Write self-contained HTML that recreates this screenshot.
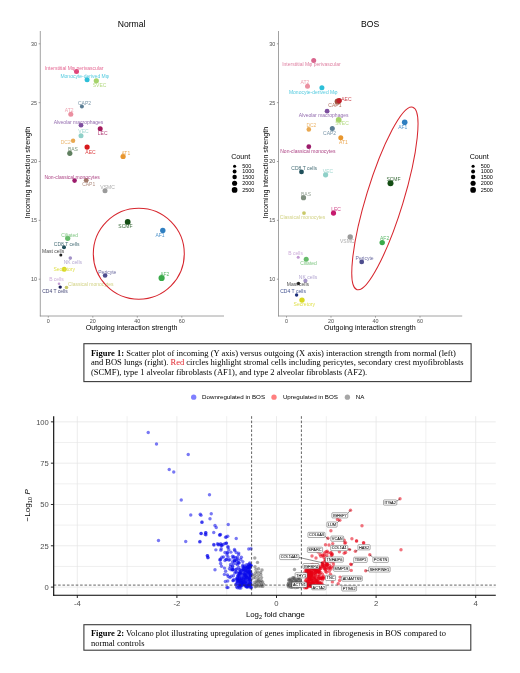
<!DOCTYPE html>
<html><head><meta charset="utf-8"><style>
html,body{margin:0;padding:0;background:#fff;}
svg{display:block;font-family:"Liberation Sans", sans-serif;will-change:transform;}
</style></head><body>
<svg width="520" height="673" viewBox="0 0 520 673">
<rect width="520" height="673" fill="#fff"/>
<line x1="40.3" y1="31" x2="40.3" y2="316.4" stroke="#8a8a8a" stroke-width="0.8"/>
<line x1="39.9" y1="316" x2="224" y2="316" stroke="#8a8a8a" stroke-width="0.8"/>
<line x1="38.699999999999996" y1="279.20" x2="40.3" y2="279.20" stroke="#8a8a8a" stroke-width="0.8"/>
<text x="37.10" y="281.14" font-size="5.4" fill="#4d4d4d" text-anchor="end" font-weight="normal" >10</text>
<line x1="38.699999999999996" y1="220.35" x2="40.3" y2="220.35" stroke="#8a8a8a" stroke-width="0.8"/>
<text x="37.10" y="222.29" font-size="5.4" fill="#4d4d4d" text-anchor="end" font-weight="normal" >15</text>
<line x1="38.699999999999996" y1="161.50" x2="40.3" y2="161.50" stroke="#8a8a8a" stroke-width="0.8"/>
<text x="37.10" y="163.44" font-size="5.4" fill="#4d4d4d" text-anchor="end" font-weight="normal" >20</text>
<line x1="38.699999999999996" y1="102.65" x2="40.3" y2="102.65" stroke="#8a8a8a" stroke-width="0.8"/>
<text x="37.10" y="104.59" font-size="5.4" fill="#4d4d4d" text-anchor="end" font-weight="normal" >25</text>
<line x1="38.699999999999996" y1="43.80" x2="40.3" y2="43.80" stroke="#8a8a8a" stroke-width="0.8"/>
<text x="37.10" y="45.74" font-size="5.4" fill="#4d4d4d" text-anchor="end" font-weight="normal" >30</text>
<line x1="48.30" y1="316" x2="48.30" y2="317.6" stroke="#8a8a8a" stroke-width="0.8"/>
<text x="48.30" y="323.24" font-size="5.4" fill="#4d4d4d" text-anchor="middle" font-weight="normal" >0</text>
<line x1="92.80" y1="316" x2="92.80" y2="317.6" stroke="#8a8a8a" stroke-width="0.8"/>
<text x="92.80" y="323.24" font-size="5.4" fill="#4d4d4d" text-anchor="middle" font-weight="normal" >20</text>
<line x1="137.30" y1="316" x2="137.30" y2="317.6" stroke="#8a8a8a" stroke-width="0.8"/>
<text x="137.30" y="323.24" font-size="5.4" fill="#4d4d4d" text-anchor="middle" font-weight="normal" >40</text>
<line x1="181.80" y1="316" x2="181.80" y2="317.6" stroke="#8a8a8a" stroke-width="0.8"/>
<text x="181.80" y="323.24" font-size="5.4" fill="#4d4d4d" text-anchor="middle" font-weight="normal" >60</text>
<text x="131.60" y="330.27" font-size="7.15" fill="#000" text-anchor="middle" font-weight="normal" >Outgoing interaction strength</text>
<text x="0" y="0" font-size="7.15" fill="#000" text-anchor="middle" transform="translate(30.150000000000002,172.7) rotate(-90)">Incoming interaction strength</text>
<line x1="278.5" y1="31" x2="278.5" y2="316.4" stroke="#8a8a8a" stroke-width="0.8"/>
<line x1="278.1" y1="316" x2="462.2" y2="316" stroke="#8a8a8a" stroke-width="0.8"/>
<line x1="276.9" y1="279.20" x2="278.5" y2="279.20" stroke="#8a8a8a" stroke-width="0.8"/>
<text x="275.30" y="281.14" font-size="5.4" fill="#4d4d4d" text-anchor="end" font-weight="normal" >10</text>
<line x1="276.9" y1="220.35" x2="278.5" y2="220.35" stroke="#8a8a8a" stroke-width="0.8"/>
<text x="275.30" y="222.29" font-size="5.4" fill="#4d4d4d" text-anchor="end" font-weight="normal" >15</text>
<line x1="276.9" y1="161.50" x2="278.5" y2="161.50" stroke="#8a8a8a" stroke-width="0.8"/>
<text x="275.30" y="163.44" font-size="5.4" fill="#4d4d4d" text-anchor="end" font-weight="normal" >20</text>
<line x1="276.9" y1="102.65" x2="278.5" y2="102.65" stroke="#8a8a8a" stroke-width="0.8"/>
<text x="275.30" y="104.59" font-size="5.4" fill="#4d4d4d" text-anchor="end" font-weight="normal" >25</text>
<line x1="276.9" y1="43.80" x2="278.5" y2="43.80" stroke="#8a8a8a" stroke-width="0.8"/>
<text x="275.30" y="45.74" font-size="5.4" fill="#4d4d4d" text-anchor="end" font-weight="normal" >30</text>
<line x1="286.50" y1="316" x2="286.50" y2="317.6" stroke="#8a8a8a" stroke-width="0.8"/>
<text x="286.50" y="323.24" font-size="5.4" fill="#4d4d4d" text-anchor="middle" font-weight="normal" >0</text>
<line x1="331.00" y1="316" x2="331.00" y2="317.6" stroke="#8a8a8a" stroke-width="0.8"/>
<text x="331.00" y="323.24" font-size="5.4" fill="#4d4d4d" text-anchor="middle" font-weight="normal" >20</text>
<line x1="375.50" y1="316" x2="375.50" y2="317.6" stroke="#8a8a8a" stroke-width="0.8"/>
<text x="375.50" y="323.24" font-size="5.4" fill="#4d4d4d" text-anchor="middle" font-weight="normal" >40</text>
<line x1="420.00" y1="316" x2="420.00" y2="317.6" stroke="#8a8a8a" stroke-width="0.8"/>
<text x="420.00" y="323.24" font-size="5.4" fill="#4d4d4d" text-anchor="middle" font-weight="normal" >60</text>
<text x="369.80" y="330.27" font-size="7.15" fill="#000" text-anchor="middle" font-weight="normal" >Outgoing interaction strength</text>
<text x="0" y="0" font-size="7.15" fill="#000" text-anchor="middle" transform="translate(268.35,172.7) rotate(-90)">Incoming interaction strength</text>
<text x="131.60" y="26.50" font-size="8.6" fill="#000" text-anchor="middle" font-weight="normal" >Normal</text>
<text x="370.10" y="26.50" font-size="8.6" fill="#000" text-anchor="middle" font-weight="normal" >BOS</text>
<circle cx="76.5" cy="71.5" r="2.50" fill="#E0457B"/>
<circle cx="87.1" cy="79.8" r="2.50" fill="#2DBFD8"/>
<circle cx="96.3" cy="80.8" r="2.60" fill="#A5D36A"/>
<circle cx="81.9" cy="106.5" r="2.00" fill="#5B7E95"/>
<circle cx="70.8" cy="114.2" r="2.50" fill="#EB8FA0"/>
<circle cx="81" cy="125.2" r="2.40" fill="#7D4E9E"/>
<circle cx="100.2" cy="128.8" r="2.50" fill="#A3185C"/>
<circle cx="81" cy="135.8" r="2.50" fill="#8FD0C8"/>
<circle cx="73.1" cy="140.8" r="2.20" fill="#E9A850"/>
<circle cx="69.8" cy="153.3" r="2.60" fill="#5F7F5F"/>
<circle cx="87.1" cy="147.1" r="2.60" fill="#D7191C"/>
<circle cx="123.1" cy="156.5" r="2.60" fill="#E8962E"/>
<circle cx="74.6" cy="180.6" r="2.30" fill="#9B1B6B"/>
<circle cx="86.2" cy="180.3" r="2.40" fill="#A07868"/>
<circle cx="105" cy="190.8" r="2.50" fill="#9A9A9A"/>
<circle cx="127.7" cy="221.9" r="2.90" fill="#134D13"/>
<circle cx="162.8" cy="230.5" r="2.70" fill="#2F7FC1"/>
<circle cx="105.1" cy="275.5" r="2.30" fill="#4E4E8E"/>
<circle cx="161.6" cy="278" r="3.10" fill="#3AAA4A"/>
<circle cx="67.7" cy="238.3" r="2.60" fill="#66BB6A"/>
<circle cx="64" cy="247.3" r="2.00" fill="#1F4F5A"/>
<circle cx="60.8" cy="255" r="1.50" fill="#222222"/>
<circle cx="70.3" cy="258.1" r="1.80" fill="#A393C8"/>
<circle cx="64.2" cy="269.2" r="2.50" fill="#D8D820"/>
<circle cx="59" cy="283.7" r="1.30" fill="#C39BD3"/>
<circle cx="60.2" cy="287.1" r="1.70" fill="#1B1F5A"/>
<circle cx="66.5" cy="287.5" r="1.80" fill="#C9C96A"/>
<text x="74.20" y="69.80" font-size="5.0" fill="#e56692" text-anchor="middle" font-weight="normal" >Interstitial Mφ perivascular</text>
<text x="84.70" y="77.80" font-size="5.0" fill="#52cadf" text-anchor="middle" font-weight="normal" >Monocyte-derived Mφ</text>
<text x="99.60" y="86.80" font-size="5.0" fill="#b5da84" text-anchor="middle" font-weight="normal" >SVEC</text>
<text x="84.50" y="104.50" font-size="5.0" fill="#7895a8" text-anchor="middle" font-weight="normal" >CAP2</text>
<text x="69.20" y="111.80" font-size="5.0" fill="#eea3b1" text-anchor="middle" font-weight="normal" >AT2</text>
<text x="78.50" y="123.70" font-size="5.0" fill="#946daf" text-anchor="middle" font-weight="normal" >Alveolar macrophages</text>
<text x="102.70" y="134.80" font-size="5.0" fill="#b34179" text-anchor="middle" font-weight="normal" >LEC</text>
<text x="83.50" y="133.30" font-size="5.0" fill="#a3d8d1" text-anchor="middle" font-weight="normal" >VEC</text>
<text x="65.70" y="143.80" font-size="5.0" fill="#ecb76f" text-anchor="middle" font-weight="normal" >DC2</text>
<text x="72.90" y="150.60" font-size="5.0" fill="#7b967b" text-anchor="middle" font-weight="normal" >BAS</text>
<text x="90.50" y="153.70" font-size="5.0" fill="#de4244" text-anchor="middle" font-weight="normal" >AEC</text>
<text x="125.80" y="155.10" font-size="5.0" fill="#eca853" text-anchor="middle" font-weight="normal" >AT1</text>
<text x="72.10" y="178.80" font-size="5.0" fill="#ad4485" text-anchor="middle" font-weight="normal" >Non-classical monocytes</text>
<text x="88.70" y="186.20" font-size="5.0" fill="#b19083" text-anchor="middle" font-weight="normal" >CAP1</text>
<text x="107.60" y="189.10" font-size="5.0" fill="#acacac" text-anchor="middle" font-weight="normal" >VSMC</text>
<text x="125.40" y="227.60" font-size="5.0" fill="#3d6d3d" text-anchor="middle" font-weight="normal" >SCMF</text>
<text x="160.00" y="236.90" font-size="5.0" fill="#5496cc" text-anchor="middle" font-weight="normal" >AF1</text>
<text x="107.30" y="273.80" font-size="5.0" fill="#6d6da2" text-anchor="middle" font-weight="normal" >Pericyte</text>
<text x="164.80" y="275.70" font-size="5.0" fill="#5db96a" text-anchor="middle" font-weight="normal" >AF2</text>
<text x="69.70" y="236.60" font-size="5.0" fill="#81c784" text-anchor="middle" font-weight="normal" >Ciliated</text>
<text x="66.70" y="245.50" font-size="5.0" fill="#476e77" text-anchor="middle" font-weight="normal" >CD8 T cells</text>
<text x="53.10" y="253.10" font-size="5.0" fill="#494949" text-anchor="middle" font-weight="normal" >Mast cells</text>
<text x="72.90" y="264.00" font-size="5.0" fill="#b3a6d1" text-anchor="middle" font-weight="normal" >NK cells</text>
<text x="64.20" y="271.00" font-size="5.0" fill="#dfdf48" text-anchor="middle" font-weight="normal" >Secretory</text>
<text x="56.50" y="281.40" font-size="5.0" fill="#cdadda" text-anchor="middle" font-weight="normal" >B cells</text>
<text x="55.00" y="293.00" font-size="5.0" fill="#444777" text-anchor="middle" font-weight="normal" >CD4 T cells</text>
<text x="90.70" y="286.00" font-size="5.0" fill="#d2d284" text-anchor="middle" font-weight="normal" >Classical monocytes</text>
<circle cx="313.7" cy="60.6" r="2.50" fill="#D9668E"/>
<circle cx="307.5" cy="86.2" r="2.50" fill="#EB8FA0"/>
<circle cx="321.9" cy="87.7" r="2.50" fill="#2DBFD8"/>
<circle cx="337.7" cy="101.5" r="3.10" fill="#A0523D"/>
<circle cx="339.2" cy="100.6" r="2.70" fill="#C0202A"/>
<circle cx="327.1" cy="111.2" r="2.40" fill="#7D4E9E"/>
<circle cx="338.7" cy="119.8" r="2.90" fill="#A5D36A"/>
<circle cx="308.8" cy="129.4" r="2.30" fill="#E9A850"/>
<circle cx="332.3" cy="128.5" r="2.50" fill="#5B7E95"/>
<circle cx="340.8" cy="137.7" r="2.50" fill="#E8962E"/>
<circle cx="308.8" cy="146.7" r="2.40" fill="#9B1B6B"/>
<circle cx="301.5" cy="171.9" r="2.40" fill="#1F4F5A"/>
<circle cx="325.6" cy="174.8" r="2.60" fill="#8FD0C8"/>
<circle cx="404.7" cy="122.3" r="2.80" fill="#2F7FC1"/>
<circle cx="390.5" cy="183.2" r="3.00" fill="#134D13"/>
<circle cx="303.5" cy="197.7" r="2.60" fill="#7F8F7F"/>
<circle cx="333.5" cy="213.1" r="2.60" fill="#C61A6E"/>
<circle cx="304" cy="213.1" r="1.90" fill="#C9C96A"/>
<circle cx="350.2" cy="237" r="2.70" fill="#9A9A9A"/>
<circle cx="382.2" cy="242.6" r="2.70" fill="#3AAA4A"/>
<circle cx="361.7" cy="261.9" r="2.40" fill="#4E4E8E"/>
<circle cx="298.2" cy="257.2" r="1.50" fill="#C39BD3"/>
<circle cx="306.2" cy="259.2" r="2.50" fill="#66BB6A"/>
<circle cx="305.4" cy="280.8" r="2.10" fill="#A393C8"/>
<circle cx="298.5" cy="283.5" r="1.70" fill="#222222"/>
<circle cx="296.6" cy="295" r="1.70" fill="#1B2F7A"/>
<circle cx="302" cy="300.1" r="2.70" fill="#D8D820"/>
<text x="311.40" y="66.20" font-size="5.0" fill="#df81a2" text-anchor="middle" font-weight="normal" >Interstitial Mφ perivascular</text>
<text x="305.00" y="84.10" font-size="5.0" fill="#eea3b1" text-anchor="middle" font-weight="normal" >AT2</text>
<text x="313.20" y="93.70" font-size="5.0" fill="#52cadf" text-anchor="middle" font-weight="normal" >Monocyte-derived Mφ</text>
<text x="334.90" y="107.20" font-size="5.0" fill="#b1715f" text-anchor="middle" font-weight="normal" >CAP1</text>
<text x="346.40" y="100.50" font-size="5.0" fill="#cb4850" text-anchor="middle" font-weight="normal" >AEC</text>
<text x="323.60" y="117.40" font-size="5.0" fill="#946daf" text-anchor="middle" font-weight="normal" >Alveolar macrophages</text>
<text x="342.00" y="124.90" font-size="5.0" fill="#b5da84" text-anchor="middle" font-weight="normal" >SVEC</text>
<text x="311.40" y="127.00" font-size="5.0" fill="#ecb76f" text-anchor="middle" font-weight="normal" >DC2</text>
<text x="329.60" y="135.10" font-size="5.0" fill="#7895a8" text-anchor="middle" font-weight="normal" >CAP2</text>
<text x="343.50" y="143.70" font-size="5.0" fill="#eca853" text-anchor="middle" font-weight="normal" >AT1</text>
<text x="307.90" y="152.60" font-size="5.0" fill="#ad4485" text-anchor="middle" font-weight="normal" >Non-classical monocytes</text>
<text x="304.20" y="169.90" font-size="5.0" fill="#476e77" text-anchor="middle" font-weight="normal" >CD8 T cells</text>
<text x="328.00" y="172.80" font-size="5.0" fill="#a3d8d1" text-anchor="middle" font-weight="normal" >VEC</text>
<text x="402.80" y="128.50" font-size="5.0" fill="#5496cc" text-anchor="middle" font-weight="normal" >AF1</text>
<text x="393.50" y="180.80" font-size="5.0" fill="#3d6d3d" text-anchor="middle" font-weight="normal" >SCMF</text>
<text x="306.00" y="195.60" font-size="5.0" fill="#96a396" text-anchor="middle" font-weight="normal" >BAS</text>
<text x="336.10" y="211.00" font-size="5.0" fill="#d04388" text-anchor="middle" font-weight="normal" >LEC</text>
<text x="302.60" y="219.10" font-size="5.0" fill="#d2d284" text-anchor="middle" font-weight="normal" >Classical monocytes</text>
<text x="347.20" y="242.90" font-size="5.0" fill="#acacac" text-anchor="middle" font-weight="normal" >VSMC</text>
<text x="384.60" y="240.20" font-size="5.0" fill="#5db96a" text-anchor="middle" font-weight="normal" >AF2</text>
<text x="364.60" y="259.80" font-size="5.0" fill="#6d6da2" text-anchor="middle" font-weight="normal" >Pericyte</text>
<text x="295.60" y="254.90" font-size="5.0" fill="#cdadda" text-anchor="middle" font-weight="normal" >B cells</text>
<text x="308.50" y="265.20" font-size="5.0" fill="#81c784" text-anchor="middle" font-weight="normal" >Ciliated</text>
<text x="308.00" y="279.10" font-size="5.0" fill="#b3a6d1" text-anchor="middle" font-weight="normal" >NK cells</text>
<text x="297.90" y="286.30" font-size="5.0" fill="#494949" text-anchor="middle" font-weight="normal" >Mast cells</text>
<text x="293.10" y="293.30" font-size="5.0" fill="#445491" text-anchor="middle" font-weight="normal" >CD4 T cells</text>
<text x="304.30" y="306.00" font-size="5.0" fill="#dfdf48" text-anchor="middle" font-weight="normal" >Secretory</text>
<circle cx="138.8" cy="253.7" r="45.5" fill="none" stroke="#D7262E" stroke-width="1.05"/>
<ellipse cx="384.9" cy="198.4" rx="18.6" ry="95.4" transform="rotate(17.0 384.9 198.4)" fill="none" stroke="#D7262E" stroke-width="1.05"/>
<text x="240.70" y="159.16" font-size="7.1" fill="#000" text-anchor="middle" font-weight="normal" >Count</text>
<circle cx="234.6" cy="166.2" r="1.55" fill="#000"/>
<text x="242.20" y="168.18" font-size="5.5" fill="#000" text-anchor="start" font-weight="normal" >500</text>
<circle cx="234.6" cy="171.5" r="1.95" fill="#000"/>
<text x="242.20" y="173.48" font-size="5.5" fill="#000" text-anchor="start" font-weight="normal" >1000</text>
<circle cx="234.6" cy="176.9" r="2.25" fill="#000"/>
<text x="242.20" y="178.88" font-size="5.5" fill="#000" text-anchor="start" font-weight="normal" >1500</text>
<circle cx="234.6" cy="183.3" r="2.55" fill="#000"/>
<text x="242.20" y="185.28" font-size="5.5" fill="#000" text-anchor="start" font-weight="normal" >2000</text>
<circle cx="234.6" cy="189.9" r="2.85" fill="#000"/>
<text x="242.20" y="191.88" font-size="5.5" fill="#000" text-anchor="start" font-weight="normal" >2500</text>
<text x="479.20" y="159.16" font-size="7.1" fill="#000" text-anchor="middle" font-weight="normal" >Count</text>
<circle cx="473.1" cy="166.2" r="1.55" fill="#000"/>
<text x="480.70" y="168.18" font-size="5.5" fill="#000" text-anchor="start" font-weight="normal" >500</text>
<circle cx="473.1" cy="171.5" r="1.95" fill="#000"/>
<text x="480.70" y="173.48" font-size="5.5" fill="#000" text-anchor="start" font-weight="normal" >1000</text>
<circle cx="473.1" cy="176.9" r="2.25" fill="#000"/>
<text x="480.70" y="178.88" font-size="5.5" fill="#000" text-anchor="start" font-weight="normal" >1500</text>
<circle cx="473.1" cy="183.3" r="2.55" fill="#000"/>
<text x="480.70" y="185.28" font-size="5.5" fill="#000" text-anchor="start" font-weight="normal" >2000</text>
<circle cx="473.1" cy="189.9" r="2.85" fill="#000"/>
<text x="480.70" y="191.88" font-size="5.5" fill="#000" text-anchor="start" font-weight="normal" >2500</text>
<rect x="83.9" y="343.7" width="387.20000000000005" height="37.900000000000034" fill="#fff" stroke="#3a3a3a" stroke-width="1.1"/>
<text font-family='"Liberation Serif", serif' font-size="8.5" fill="#000"><tspan x="90.9" y="355.8"><tspan font-weight="bold">Figure 1:</tspan> Scatter plot of incoming (Y axis) versus outgoing (X axis) interaction strength from normal (left)</tspan><tspan x="90.9" y="365.3">and BOS lungs (right). <tspan fill="#E0262E">Red</tspan> circles highlight stromal cells including pericytes, secondary crest myofibroblasts</tspan><tspan x="90.9" y="374.8">(SCMF), type 1 alveolar fibroblasts (AF1), and type 2 alveolar fibroblasts (AF2).</tspan></text>
<rect x="83.9" y="624.7" width="386.9" height="25.5" fill="#fff" stroke="#3a3a3a" stroke-width="1.1"/>
<text font-family='"Liberation Serif", serif' font-size="8.5" fill="#000"><tspan x="90.9" y="636.1"><tspan font-weight="bold">Figure 2:</tspan> Volcano plot illustrating upregulation of genes implicated in fibrogenesis in BOS compared to</tspan><tspan x="90.9" y="645.6">normal controls</tspan></text>
<line x1="77.30" y1="416.2" x2="77.30" y2="595.2" stroke="#e6e6e6" stroke-width="0.75"/>
<line x1="127.10" y1="416.2" x2="127.10" y2="595.2" stroke="#e6e6e6" stroke-width="0.6"/>
<line x1="176.90" y1="416.2" x2="176.90" y2="595.2" stroke="#e6e6e6" stroke-width="0.75"/>
<line x1="226.70" y1="416.2" x2="226.70" y2="595.2" stroke="#e6e6e6" stroke-width="0.6"/>
<line x1="276.50" y1="416.2" x2="276.50" y2="595.2" stroke="#e6e6e6" stroke-width="0.75"/>
<line x1="326.30" y1="416.2" x2="326.30" y2="595.2" stroke="#e6e6e6" stroke-width="0.6"/>
<line x1="376.10" y1="416.2" x2="376.10" y2="595.2" stroke="#e6e6e6" stroke-width="0.75"/>
<line x1="425.90" y1="416.2" x2="425.90" y2="595.2" stroke="#e6e6e6" stroke-width="0.6"/>
<line x1="475.70" y1="416.2" x2="475.70" y2="595.2" stroke="#e6e6e6" stroke-width="0.75"/>
<line x1="53.7" y1="587.10" x2="495.8" y2="587.10" stroke="#e6e6e6" stroke-width="0.75"/>
<line x1="53.7" y1="566.44" x2="495.8" y2="566.44" stroke="#e6e6e6" stroke-width="0.6"/>
<line x1="53.7" y1="545.79" x2="495.8" y2="545.79" stroke="#e6e6e6" stroke-width="0.75"/>
<line x1="53.7" y1="525.13" x2="495.8" y2="525.13" stroke="#e6e6e6" stroke-width="0.6"/>
<line x1="53.7" y1="504.48" x2="495.8" y2="504.48" stroke="#e6e6e6" stroke-width="0.75"/>
<line x1="53.7" y1="483.82" x2="495.8" y2="483.82" stroke="#e6e6e6" stroke-width="0.6"/>
<line x1="53.7" y1="463.16" x2="495.8" y2="463.16" stroke="#e6e6e6" stroke-width="0.75"/>
<line x1="53.7" y1="442.51" x2="495.8" y2="442.51" stroke="#e6e6e6" stroke-width="0.6"/>
<line x1="53.7" y1="421.85" x2="495.8" y2="421.85" stroke="#e6e6e6" stroke-width="0.75"/>
<circle cx="324.01" cy="557.59" r="1.7" fill="rgba(232,0,20,0.55)"/>
<circle cx="311.54" cy="575.11" r="1.7" fill="rgba(232,0,20,0.55)"/>
<circle cx="259.23" cy="581.59" r="1.7" fill="rgba(77,77,77,0.5)"/>
<circle cx="249.37" cy="582.92" r="1.7" fill="rgba(10,10,235,0.55)"/>
<circle cx="322.57" cy="555.07" r="1.7" fill="rgba(232,0,20,0.55)"/>
<circle cx="258.23" cy="575.22" r="1.7" fill="rgba(77,77,77,0.5)"/>
<circle cx="241.36" cy="557.19" r="1.7" fill="rgba(10,10,235,0.55)"/>
<circle cx="314.02" cy="585.33" r="1.7" fill="rgba(232,0,20,0.55)"/>
<circle cx="255.01" cy="566.81" r="1.7" fill="rgba(77,77,77,0.5)"/>
<circle cx="249.78" cy="562.88" r="1.7" fill="rgba(10,10,235,0.55)"/>
<circle cx="227.75" cy="581.00" r="1.7" fill="rgba(10,10,235,0.55)"/>
<circle cx="239.24" cy="585.50" r="1.7" fill="rgba(10,10,235,0.55)"/>
<circle cx="242.34" cy="582.76" r="1.7" fill="rgba(10,10,235,0.55)"/>
<circle cx="229.40" cy="568.75" r="1.7" fill="rgba(10,10,235,0.55)"/>
<circle cx="251.16" cy="587.89" r="1.7" fill="rgba(10,10,235,0.55)"/>
<circle cx="239.94" cy="572.55" r="1.7" fill="rgba(10,10,235,0.55)"/>
<circle cx="233.36" cy="575.80" r="1.7" fill="rgba(10,10,235,0.55)"/>
<circle cx="311.52" cy="572.00" r="1.7" fill="rgba(232,0,20,0.55)"/>
<circle cx="257.70" cy="572.26" r="1.7" fill="rgba(77,77,77,0.5)"/>
<circle cx="249.72" cy="570.90" r="1.7" fill="rgba(10,10,235,0.55)"/>
<circle cx="249.49" cy="566.35" r="1.7" fill="rgba(10,10,235,0.55)"/>
<circle cx="307.24" cy="584.23" r="1.7" fill="rgba(232,0,20,0.55)"/>
<circle cx="311.34" cy="583.41" r="1.7" fill="rgba(232,0,20,0.55)"/>
<circle cx="312.93" cy="585.70" r="1.7" fill="rgba(232,0,20,0.55)"/>
<circle cx="316.16" cy="580.99" r="1.7" fill="rgba(232,0,20,0.55)"/>
<circle cx="260.87" cy="574.71" r="1.7" fill="rgba(77,77,77,0.5)"/>
<circle cx="217.50" cy="543.75" r="1.7" fill="rgba(10,10,235,0.55)"/>
<circle cx="247.24" cy="586.51" r="1.7" fill="rgba(10,10,235,0.55)"/>
<circle cx="290.66" cy="587.36" r="1.7" fill="rgba(77,77,77,0.5)"/>
<circle cx="304.70" cy="587.80" r="1.7" fill="rgba(232,0,20,0.55)"/>
<circle cx="221.22" cy="548.78" r="1.7" fill="rgba(10,10,235,0.55)"/>
<circle cx="312.37" cy="582.64" r="1.7" fill="rgba(232,0,20,0.55)"/>
<circle cx="355.40" cy="551.30" r="1.7" fill="rgba(232,0,20,0.55)"/>
<circle cx="251.10" cy="584.99" r="1.7" fill="rgba(10,10,235,0.55)"/>
<circle cx="326.27" cy="565.95" r="1.7" fill="rgba(232,0,20,0.55)"/>
<circle cx="293.63" cy="582.89" r="1.7" fill="rgba(77,77,77,0.5)"/>
<circle cx="329.29" cy="571.30" r="1.7" fill="rgba(232,0,20,0.55)"/>
<circle cx="201.00" cy="533.50" r="1.7" fill="rgba(10,10,235,0.55)"/>
<circle cx="261.50" cy="584.73" r="1.7" fill="rgba(77,77,77,0.5)"/>
<circle cx="255.39" cy="577.74" r="1.7" fill="rgba(77,77,77,0.5)"/>
<circle cx="230.86" cy="552.17" r="1.7" fill="rgba(10,10,235,0.55)"/>
<circle cx="309.10" cy="575.74" r="1.7" fill="rgba(232,0,20,0.55)"/>
<circle cx="307.29" cy="573.27" r="1.7" fill="rgba(232,0,20,0.55)"/>
<circle cx="247.26" cy="583.26" r="1.7" fill="rgba(10,10,235,0.55)"/>
<circle cx="224.49" cy="568.08" r="1.7" fill="rgba(10,10,235,0.55)"/>
<circle cx="320.70" cy="568.45" r="1.7" fill="rgba(232,0,20,0.55)"/>
<circle cx="220.83" cy="550.14" r="1.7" fill="rgba(10,10,235,0.55)"/>
<circle cx="291.25" cy="585.60" r="1.7" fill="rgba(77,77,77,0.5)"/>
<circle cx="243.72" cy="577.68" r="1.7" fill="rgba(10,10,235,0.55)"/>
<circle cx="220.26" cy="560.34" r="1.7" fill="rgba(10,10,235,0.55)"/>
<circle cx="337.50" cy="519.50" r="1.7" fill="rgba(232,0,20,0.55)"/>
<circle cx="261.50" cy="577.59" r="1.7" fill="rgba(77,77,77,0.5)"/>
<circle cx="169.25" cy="469.50" r="1.7" fill="rgba(10,10,235,0.55)"/>
<circle cx="311.83" cy="576.95" r="1.7" fill="rgba(232,0,20,0.55)"/>
<circle cx="218.75" cy="544.50" r="1.7" fill="rgba(10,10,235,0.55)"/>
<circle cx="249.77" cy="579.50" r="1.7" fill="rgba(10,10,235,0.55)"/>
<circle cx="237.53" cy="587.73" r="1.7" fill="rgba(10,10,235,0.55)"/>
<circle cx="262.00" cy="570.00" r="1.7" fill="rgba(77,77,77,0.5)"/>
<circle cx="298.14" cy="578.63" r="1.7" fill="rgba(77,77,77,0.5)"/>
<circle cx="338.20" cy="583.80" r="1.7" fill="rgba(232,0,20,0.55)"/>
<circle cx="242.72" cy="585.29" r="1.7" fill="rgba(10,10,235,0.55)"/>
<circle cx="320.59" cy="578.67" r="1.7" fill="rgba(232,0,20,0.55)"/>
<circle cx="236.32" cy="578.90" r="1.7" fill="rgba(10,10,235,0.55)"/>
<circle cx="288.56" cy="582.84" r="1.7" fill="rgba(77,77,77,0.5)"/>
<circle cx="307.16" cy="585.53" r="1.7" fill="rgba(232,0,20,0.55)"/>
<circle cx="313.97" cy="587.87" r="1.7" fill="rgba(232,0,20,0.55)"/>
<circle cx="235.54" cy="557.68" r="1.7" fill="rgba(10,10,235,0.55)"/>
<circle cx="239.02" cy="573.77" r="1.7" fill="rgba(10,10,235,0.55)"/>
<circle cx="314.36" cy="582.01" r="1.7" fill="rgba(232,0,20,0.55)"/>
<circle cx="314.48" cy="579.53" r="1.7" fill="rgba(232,0,20,0.55)"/>
<circle cx="156.50" cy="444.00" r="1.7" fill="rgba(10,10,235,0.55)"/>
<circle cx="322.82" cy="564.47" r="1.7" fill="rgba(232,0,20,0.55)"/>
<circle cx="242.88" cy="576.99" r="1.7" fill="rgba(10,10,235,0.55)"/>
<circle cx="318.61" cy="571.96" r="1.7" fill="rgba(232,0,20,0.55)"/>
<circle cx="220.00" cy="535.00" r="1.7" fill="rgba(10,10,235,0.55)"/>
<circle cx="246.50" cy="564.65" r="1.7" fill="rgba(10,10,235,0.55)"/>
<circle cx="234.75" cy="550.60" r="1.7" fill="rgba(10,10,235,0.55)"/>
<circle cx="243.33" cy="581.26" r="1.7" fill="rgba(10,10,235,0.55)"/>
<circle cx="245.90" cy="568.12" r="1.7" fill="rgba(10,10,235,0.55)"/>
<circle cx="248.40" cy="585.51" r="1.7" fill="rgba(10,10,235,0.55)"/>
<circle cx="237.99" cy="579.09" r="1.7" fill="rgba(10,10,235,0.55)"/>
<circle cx="241.98" cy="582.80" r="1.7" fill="rgba(10,10,235,0.55)"/>
<circle cx="307.25" cy="566.27" r="1.7" fill="rgba(232,0,20,0.55)"/>
<circle cx="248.75" cy="549.00" r="1.7" fill="rgba(10,10,235,0.55)"/>
<circle cx="232.50" cy="569.75" r="1.7" fill="rgba(10,10,235,0.55)"/>
<circle cx="227.29" cy="552.50" r="1.7" fill="rgba(10,10,235,0.55)"/>
<circle cx="310.26" cy="586.14" r="1.7" fill="rgba(232,0,20,0.55)"/>
<circle cx="256.98" cy="580.59" r="1.7" fill="rgba(77,77,77,0.5)"/>
<circle cx="237.87" cy="575.76" r="1.7" fill="rgba(10,10,235,0.55)"/>
<circle cx="311.50" cy="586.39" r="1.7" fill="rgba(232,0,20,0.55)"/>
<circle cx="237.22" cy="578.99" r="1.7" fill="rgba(10,10,235,0.55)"/>
<circle cx="241.73" cy="577.22" r="1.7" fill="rgba(10,10,235,0.55)"/>
<circle cx="308.29" cy="571.28" r="1.7" fill="rgba(232,0,20,0.55)"/>
<circle cx="220.60" cy="563.50" r="1.7" fill="rgba(10,10,235,0.55)"/>
<circle cx="241.54" cy="570.23" r="1.7" fill="rgba(10,10,235,0.55)"/>
<circle cx="315.10" cy="577.46" r="1.7" fill="rgba(232,0,20,0.55)"/>
<circle cx="299.12" cy="584.29" r="1.7" fill="rgba(77,77,77,0.5)"/>
<circle cx="332.70" cy="543.60" r="1.7" fill="rgba(232,0,20,0.55)"/>
<circle cx="333.59" cy="567.05" r="1.7" fill="rgba(232,0,20,0.55)"/>
<circle cx="236.25" cy="563.75" r="1.7" fill="rgba(10,10,235,0.55)"/>
<circle cx="240.79" cy="586.07" r="1.7" fill="rgba(10,10,235,0.55)"/>
<circle cx="309.94" cy="577.15" r="1.7" fill="rgba(232,0,20,0.55)"/>
<circle cx="236.25" cy="552.50" r="1.7" fill="rgba(10,10,235,0.55)"/>
<circle cx="246.60" cy="576.01" r="1.7" fill="rgba(10,10,235,0.55)"/>
<circle cx="238.41" cy="562.94" r="1.7" fill="rgba(10,10,235,0.55)"/>
<circle cx="257.50" cy="562.40" r="1.7" fill="rgba(77,77,77,0.5)"/>
<circle cx="310.32" cy="572.10" r="1.7" fill="rgba(232,0,20,0.55)"/>
<circle cx="214.00" cy="545.00" r="1.7" fill="rgba(10,10,235,0.55)"/>
<circle cx="226.50" cy="543.10" r="1.7" fill="rgba(10,10,235,0.55)"/>
<circle cx="299.80" cy="583.62" r="1.7" fill="rgba(77,77,77,0.5)"/>
<circle cx="315.74" cy="580.73" r="1.7" fill="rgba(232,0,20,0.55)"/>
<circle cx="202.00" cy="522.00" r="1.7" fill="rgba(10,10,235,0.55)"/>
<circle cx="248.30" cy="564.60" r="1.7" fill="rgba(10,10,235,0.55)"/>
<circle cx="344.70" cy="543.10" r="1.7" fill="rgba(232,0,20,0.55)"/>
<circle cx="310.47" cy="573.49" r="1.7" fill="rgba(232,0,20,0.55)"/>
<circle cx="234.75" cy="573.10" r="1.7" fill="rgba(10,10,235,0.55)"/>
<circle cx="240.62" cy="585.12" r="1.7" fill="rgba(10,10,235,0.55)"/>
<circle cx="234.50" cy="549.50" r="1.7" fill="rgba(10,10,235,0.55)"/>
<circle cx="242.70" cy="583.96" r="1.7" fill="rgba(10,10,235,0.55)"/>
<circle cx="292.85" cy="577.67" r="1.7" fill="rgba(77,77,77,0.5)"/>
<circle cx="239.20" cy="572.86" r="1.7" fill="rgba(10,10,235,0.55)"/>
<circle cx="309.92" cy="581.97" r="1.7" fill="rgba(232,0,20,0.55)"/>
<circle cx="315.54" cy="585.73" r="1.7" fill="rgba(232,0,20,0.55)"/>
<circle cx="327.23" cy="565.60" r="1.7" fill="rgba(232,0,20,0.55)"/>
<circle cx="251.00" cy="548.75" r="1.7" fill="rgba(10,10,235,0.55)"/>
<circle cx="246.44" cy="571.05" r="1.7" fill="rgba(10,10,235,0.55)"/>
<circle cx="254.53" cy="584.47" r="1.7" fill="rgba(77,77,77,0.5)"/>
<circle cx="255.22" cy="586.77" r="1.7" fill="rgba(77,77,77,0.5)"/>
<circle cx="324.42" cy="565.51" r="1.7" fill="rgba(232,0,20,0.55)"/>
<circle cx="201.20" cy="533.50" r="1.7" fill="rgba(10,10,235,0.55)"/>
<circle cx="315.61" cy="568.17" r="1.7" fill="rgba(232,0,20,0.55)"/>
<circle cx="310.13" cy="585.53" r="1.7" fill="rgba(232,0,20,0.55)"/>
<circle cx="248.77" cy="580.70" r="1.7" fill="rgba(10,10,235,0.55)"/>
<circle cx="317.48" cy="584.80" r="1.7" fill="rgba(232,0,20,0.55)"/>
<circle cx="317.84" cy="576.49" r="1.7" fill="rgba(232,0,20,0.55)"/>
<circle cx="249.41" cy="578.09" r="1.7" fill="rgba(10,10,235,0.55)"/>
<circle cx="306.86" cy="575.62" r="1.7" fill="rgba(232,0,20,0.55)"/>
<circle cx="311.76" cy="579.89" r="1.7" fill="rgba(232,0,20,0.55)"/>
<circle cx="233.72" cy="556.64" r="1.7" fill="rgba(10,10,235,0.55)"/>
<circle cx="244.70" cy="566.29" r="1.7" fill="rgba(10,10,235,0.55)"/>
<circle cx="313.09" cy="582.55" r="1.7" fill="rgba(232,0,20,0.55)"/>
<circle cx="326.51" cy="572.18" r="1.7" fill="rgba(232,0,20,0.55)"/>
<circle cx="349.60" cy="549.60" r="1.7" fill="rgba(232,0,20,0.55)"/>
<circle cx="249.01" cy="571.71" r="1.7" fill="rgba(10,10,235,0.55)"/>
<circle cx="247.07" cy="572.71" r="1.7" fill="rgba(10,10,235,0.55)"/>
<circle cx="318.65" cy="585.60" r="1.7" fill="rgba(232,0,20,0.55)"/>
<circle cx="188.25" cy="454.50" r="1.7" fill="rgba(10,10,235,0.55)"/>
<circle cx="323.80" cy="578.10" r="1.7" fill="rgba(232,0,20,0.55)"/>
<circle cx="241.09" cy="582.70" r="1.7" fill="rgba(10,10,235,0.55)"/>
<circle cx="250.90" cy="572.94" r="1.7" fill="rgba(10,10,235,0.55)"/>
<circle cx="228.10" cy="556.90" r="1.7" fill="rgba(10,10,235,0.55)"/>
<circle cx="249.94" cy="568.10" r="1.7" fill="rgba(10,10,235,0.55)"/>
<circle cx="318.65" cy="571.51" r="1.7" fill="rgba(232,0,20,0.55)"/>
<circle cx="314.85" cy="565.09" r="1.7" fill="rgba(232,0,20,0.55)"/>
<circle cx="330.84" cy="561.75" r="1.7" fill="rgba(232,0,20,0.55)"/>
<circle cx="327.25" cy="551.26" r="1.7" fill="rgba(232,0,20,0.55)"/>
<circle cx="289.21" cy="580.37" r="1.7" fill="rgba(77,77,77,0.5)"/>
<circle cx="261.30" cy="580.50" r="1.7" fill="rgba(77,77,77,0.5)"/>
<circle cx="316.51" cy="570.97" r="1.7" fill="rgba(232,0,20,0.55)"/>
<circle cx="332.34" cy="553.92" r="1.7" fill="rgba(232,0,20,0.55)"/>
<circle cx="290.17" cy="578.87" r="1.7" fill="rgba(77,77,77,0.5)"/>
<circle cx="295.08" cy="584.22" r="1.7" fill="rgba(77,77,77,0.5)"/>
<circle cx="332.40" cy="581.90" r="1.7" fill="rgba(232,0,20,0.55)"/>
<circle cx="315.89" cy="572.47" r="1.7" fill="rgba(232,0,20,0.55)"/>
<circle cx="244.19" cy="573.34" r="1.7" fill="rgba(10,10,235,0.55)"/>
<circle cx="215.00" cy="525.50" r="1.7" fill="rgba(10,10,235,0.55)"/>
<circle cx="309.90" cy="579.36" r="1.7" fill="rgba(232,0,20,0.55)"/>
<circle cx="226.09" cy="559.34" r="1.7" fill="rgba(10,10,235,0.55)"/>
<circle cx="244.86" cy="578.22" r="1.7" fill="rgba(10,10,235,0.55)"/>
<circle cx="240.74" cy="559.39" r="1.7" fill="rgba(10,10,235,0.55)"/>
<circle cx="306.26" cy="569.44" r="1.7" fill="rgba(232,0,20,0.55)"/>
<circle cx="245.57" cy="582.82" r="1.7" fill="rgba(10,10,235,0.55)"/>
<circle cx="316.73" cy="568.75" r="1.7" fill="rgba(232,0,20,0.55)"/>
<circle cx="220.50" cy="534.50" r="1.7" fill="rgba(10,10,235,0.55)"/>
<circle cx="239.17" cy="584.27" r="1.7" fill="rgba(10,10,235,0.55)"/>
<circle cx="245.07" cy="570.34" r="1.7" fill="rgba(10,10,235,0.55)"/>
<circle cx="310.75" cy="565.31" r="1.7" fill="rgba(232,0,20,0.55)"/>
<circle cx="401.00" cy="549.80" r="1.7" fill="rgba(232,0,20,0.55)"/>
<circle cx="312.15" cy="580.00" r="1.7" fill="rgba(232,0,20,0.55)"/>
<circle cx="237.10" cy="558.95" r="1.7" fill="rgba(10,10,235,0.55)"/>
<circle cx="250.22" cy="571.58" r="1.7" fill="rgba(10,10,235,0.55)"/>
<circle cx="306.48" cy="587.92" r="1.7" fill="rgba(232,0,20,0.55)"/>
<circle cx="227.75" cy="536.25" r="1.7" fill="rgba(10,10,235,0.55)"/>
<circle cx="305.11" cy="585.56" r="1.7" fill="rgba(232,0,20,0.55)"/>
<circle cx="339.60" cy="580.50" r="1.7" fill="rgba(232,0,20,0.55)"/>
<circle cx="288.89" cy="583.61" r="1.7" fill="rgba(77,77,77,0.5)"/>
<circle cx="294.23" cy="578.72" r="1.7" fill="rgba(77,77,77,0.5)"/>
<circle cx="241.40" cy="578.49" r="1.7" fill="rgba(10,10,235,0.55)"/>
<circle cx="310.50" cy="575.96" r="1.7" fill="rgba(232,0,20,0.55)"/>
<circle cx="298.75" cy="585.53" r="1.7" fill="rgba(77,77,77,0.5)"/>
<circle cx="313.71" cy="568.13" r="1.7" fill="rgba(232,0,20,0.55)"/>
<circle cx="258.69" cy="580.06" r="1.7" fill="rgba(77,77,77,0.5)"/>
<circle cx="238.81" cy="575.80" r="1.7" fill="rgba(10,10,235,0.55)"/>
<circle cx="340.10" cy="577.10" r="1.7" fill="rgba(232,0,20,0.55)"/>
<circle cx="292.46" cy="584.49" r="1.7" fill="rgba(77,77,77,0.5)"/>
<circle cx="308.24" cy="581.50" r="1.7" fill="rgba(232,0,20,0.55)"/>
<circle cx="244.15" cy="575.58" r="1.7" fill="rgba(10,10,235,0.55)"/>
<circle cx="317.58" cy="567.47" r="1.7" fill="rgba(232,0,20,0.55)"/>
<circle cx="228.10" cy="547.50" r="1.7" fill="rgba(10,10,235,0.55)"/>
<circle cx="327.90" cy="552.70" r="1.7" fill="rgba(232,0,20,0.55)"/>
<circle cx="239.10" cy="578.78" r="1.7" fill="rgba(10,10,235,0.55)"/>
<circle cx="225.60" cy="537.25" r="1.7" fill="rgba(10,10,235,0.55)"/>
<circle cx="339.40" cy="551.70" r="1.7" fill="rgba(232,0,20,0.55)"/>
<circle cx="319.70" cy="567.96" r="1.7" fill="rgba(232,0,20,0.55)"/>
<circle cx="250.82" cy="565.33" r="1.7" fill="rgba(10,10,235,0.55)"/>
<circle cx="238.07" cy="575.41" r="1.7" fill="rgba(10,10,235,0.55)"/>
<circle cx="333.44" cy="564.11" r="1.7" fill="rgba(232,0,20,0.55)"/>
<circle cx="315.55" cy="585.68" r="1.7" fill="rgba(232,0,20,0.55)"/>
<circle cx="250.90" cy="587.43" r="1.7" fill="rgba(10,10,235,0.55)"/>
<circle cx="314.30" cy="573.52" r="1.7" fill="rgba(232,0,20,0.55)"/>
<circle cx="298.11" cy="586.95" r="1.7" fill="rgba(77,77,77,0.5)"/>
<circle cx="322.93" cy="577.51" r="1.7" fill="rgba(232,0,20,0.55)"/>
<circle cx="225.00" cy="552.50" r="1.7" fill="rgba(10,10,235,0.55)"/>
<circle cx="148.25" cy="432.50" r="1.7" fill="rgba(10,10,235,0.55)"/>
<circle cx="308.05" cy="573.53" r="1.7" fill="rgba(232,0,20,0.55)"/>
<circle cx="240.87" cy="585.75" r="1.7" fill="rgba(10,10,235,0.55)"/>
<circle cx="328.42" cy="568.40" r="1.7" fill="rgba(232,0,20,0.55)"/>
<circle cx="313.18" cy="565.90" r="1.7" fill="rgba(232,0,20,0.55)"/>
<circle cx="245.70" cy="576.24" r="1.7" fill="rgba(10,10,235,0.55)"/>
<circle cx="356.60" cy="540.90" r="1.7" fill="rgba(232,0,20,0.55)"/>
<circle cx="229.97" cy="577.57" r="1.7" fill="rgba(10,10,235,0.55)"/>
<circle cx="310.55" cy="583.18" r="1.7" fill="rgba(232,0,20,0.55)"/>
<circle cx="313.50" cy="582.01" r="1.7" fill="rgba(232,0,20,0.55)"/>
<circle cx="236.59" cy="587.07" r="1.7" fill="rgba(10,10,235,0.55)"/>
<circle cx="240.07" cy="573.13" r="1.7" fill="rgba(10,10,235,0.55)"/>
<circle cx="369.80" cy="554.80" r="1.7" fill="rgba(232,0,20,0.55)"/>
<circle cx="259.15" cy="584.28" r="1.7" fill="rgba(77,77,77,0.5)"/>
<circle cx="235.00" cy="560.60" r="1.7" fill="rgba(10,10,235,0.55)"/>
<circle cx="307.14" cy="585.70" r="1.7" fill="rgba(232,0,20,0.55)"/>
<circle cx="248.94" cy="578.29" r="1.7" fill="rgba(10,10,235,0.55)"/>
<circle cx="255.06" cy="575.22" r="1.7" fill="rgba(77,77,77,0.5)"/>
<circle cx="249.38" cy="572.61" r="1.7" fill="rgba(10,10,235,0.55)"/>
<circle cx="242.12" cy="580.13" r="1.7" fill="rgba(10,10,235,0.55)"/>
<circle cx="185.70" cy="541.50" r="1.7" fill="rgba(10,10,235,0.55)"/>
<circle cx="327.12" cy="561.83" r="1.7" fill="rgba(232,0,20,0.55)"/>
<circle cx="287.76" cy="585.02" r="1.7" fill="rgba(77,77,77,0.5)"/>
<circle cx="310.37" cy="575.91" r="1.7" fill="rgba(232,0,20,0.55)"/>
<circle cx="246.51" cy="577.61" r="1.7" fill="rgba(10,10,235,0.55)"/>
<circle cx="239.32" cy="587.96" r="1.7" fill="rgba(10,10,235,0.55)"/>
<circle cx="344.20" cy="540.20" r="1.7" fill="rgba(232,0,20,0.55)"/>
<circle cx="250.43" cy="565.15" r="1.7" fill="rgba(10,10,235,0.55)"/>
<circle cx="308.06" cy="571.30" r="1.7" fill="rgba(232,0,20,0.55)"/>
<circle cx="336.00" cy="560.00" r="1.7" fill="rgba(232,0,20,0.55)"/>
<circle cx="244.16" cy="582.77" r="1.7" fill="rgba(10,10,235,0.55)"/>
<circle cx="306.12" cy="569.87" r="1.7" fill="rgba(232,0,20,0.55)"/>
<circle cx="324.50" cy="555.10" r="1.7" fill="rgba(232,0,20,0.55)"/>
<circle cx="306.34" cy="580.24" r="1.7" fill="rgba(232,0,20,0.55)"/>
<circle cx="313.73" cy="572.08" r="1.7" fill="rgba(232,0,20,0.55)"/>
<circle cx="351.20" cy="570.40" r="1.7" fill="rgba(232,0,20,0.55)"/>
<circle cx="246.81" cy="586.75" r="1.7" fill="rgba(10,10,235,0.55)"/>
<circle cx="308.23" cy="585.12" r="1.7" fill="rgba(232,0,20,0.55)"/>
<circle cx="311.94" cy="568.61" r="1.7" fill="rgba(232,0,20,0.55)"/>
<circle cx="239.91" cy="583.59" r="1.7" fill="rgba(10,10,235,0.55)"/>
<circle cx="237.37" cy="577.57" r="1.7" fill="rgba(10,10,235,0.55)"/>
<circle cx="326.07" cy="569.46" r="1.7" fill="rgba(232,0,20,0.55)"/>
<circle cx="243.22" cy="567.47" r="1.7" fill="rgba(10,10,235,0.55)"/>
<circle cx="294.25" cy="585.40" r="1.7" fill="rgba(77,77,77,0.5)"/>
<circle cx="345.60" cy="542.70" r="1.7" fill="rgba(232,0,20,0.55)"/>
<circle cx="226.25" cy="537.00" r="1.7" fill="rgba(10,10,235,0.55)"/>
<circle cx="308.55" cy="572.51" r="1.7" fill="rgba(232,0,20,0.55)"/>
<circle cx="256.64" cy="583.74" r="1.7" fill="rgba(77,77,77,0.5)"/>
<circle cx="291.91" cy="581.01" r="1.7" fill="rgba(77,77,77,0.5)"/>
<circle cx="315.50" cy="574.99" r="1.7" fill="rgba(232,0,20,0.55)"/>
<circle cx="200.25" cy="514.25" r="1.7" fill="rgba(10,10,235,0.55)"/>
<circle cx="318.77" cy="578.34" r="1.7" fill="rgba(232,0,20,0.55)"/>
<circle cx="315.34" cy="579.48" r="1.7" fill="rgba(232,0,20,0.55)"/>
<circle cx="258.57" cy="568.78" r="1.7" fill="rgba(77,77,77,0.5)"/>
<circle cx="260.87" cy="586.17" r="1.7" fill="rgba(77,77,77,0.5)"/>
<circle cx="207.90" cy="557.75" r="1.7" fill="rgba(10,10,235,0.55)"/>
<circle cx="317.59" cy="581.70" r="1.7" fill="rgba(232,0,20,0.55)"/>
<circle cx="312.46" cy="586.58" r="1.7" fill="rgba(232,0,20,0.55)"/>
<circle cx="245.51" cy="575.35" r="1.7" fill="rgba(10,10,235,0.55)"/>
<circle cx="295.88" cy="580.68" r="1.7" fill="rgba(77,77,77,0.5)"/>
<circle cx="315.68" cy="574.62" r="1.7" fill="rgba(232,0,20,0.55)"/>
<circle cx="238.24" cy="562.62" r="1.7" fill="rgba(10,10,235,0.55)"/>
<circle cx="314.76" cy="576.60" r="1.7" fill="rgba(232,0,20,0.55)"/>
<circle cx="225.60" cy="571.25" r="1.7" fill="rgba(10,10,235,0.55)"/>
<circle cx="314.25" cy="568.32" r="1.7" fill="rgba(232,0,20,0.55)"/>
<circle cx="309.10" cy="565.64" r="1.7" fill="rgba(232,0,20,0.55)"/>
<circle cx="315.43" cy="570.34" r="1.7" fill="rgba(232,0,20,0.55)"/>
<circle cx="238.99" cy="586.75" r="1.7" fill="rgba(10,10,235,0.55)"/>
<circle cx="181.25" cy="500.00" r="1.7" fill="rgba(10,10,235,0.55)"/>
<circle cx="249.12" cy="577.32" r="1.7" fill="rgba(10,10,235,0.55)"/>
<circle cx="250.90" cy="579.42" r="1.7" fill="rgba(10,10,235,0.55)"/>
<circle cx="289.08" cy="585.46" r="1.7" fill="rgba(77,77,77,0.5)"/>
<circle cx="310.80" cy="581.59" r="1.7" fill="rgba(232,0,20,0.55)"/>
<circle cx="295.69" cy="581.99" r="1.7" fill="rgba(77,77,77,0.5)"/>
<circle cx="309.50" cy="568.80" r="1.7" fill="rgba(232,0,20,0.55)"/>
<circle cx="300.56" cy="582.43" r="1.7" fill="rgba(77,77,77,0.5)"/>
<circle cx="308.40" cy="572.35" r="1.7" fill="rgba(232,0,20,0.55)"/>
<circle cx="329.13" cy="567.99" r="1.7" fill="rgba(232,0,20,0.55)"/>
<circle cx="345.60" cy="552.50" r="1.7" fill="rgba(232,0,20,0.55)"/>
<circle cx="250.38" cy="575.31" r="1.7" fill="rgba(10,10,235,0.55)"/>
<circle cx="248.87" cy="572.66" r="1.7" fill="rgba(10,10,235,0.55)"/>
<circle cx="293.67" cy="580.76" r="1.7" fill="rgba(77,77,77,0.5)"/>
<circle cx="249.02" cy="568.82" r="1.7" fill="rgba(10,10,235,0.55)"/>
<circle cx="248.99" cy="579.05" r="1.7" fill="rgba(10,10,235,0.55)"/>
<circle cx="326.71" cy="567.22" r="1.7" fill="rgba(232,0,20,0.55)"/>
<circle cx="228.75" cy="549.75" r="1.7" fill="rgba(10,10,235,0.55)"/>
<circle cx="306.93" cy="574.73" r="1.7" fill="rgba(232,0,20,0.55)"/>
<circle cx="239.35" cy="562.77" r="1.7" fill="rgba(10,10,235,0.55)"/>
<circle cx="330.22" cy="559.44" r="1.7" fill="rgba(232,0,20,0.55)"/>
<circle cx="300.36" cy="581.25" r="1.7" fill="rgba(77,77,77,0.5)"/>
<circle cx="224.95" cy="543.49" r="1.7" fill="rgba(10,10,235,0.55)"/>
<circle cx="248.01" cy="566.15" r="1.7" fill="rgba(10,10,235,0.55)"/>
<circle cx="241.65" cy="574.33" r="1.7" fill="rgba(10,10,235,0.55)"/>
<circle cx="333.29" cy="561.75" r="1.7" fill="rgba(232,0,20,0.55)"/>
<circle cx="318.00" cy="552.00" r="1.7" fill="rgba(232,0,20,0.55)"/>
<circle cx="308.01" cy="573.65" r="1.7" fill="rgba(232,0,20,0.55)"/>
<circle cx="311.10" cy="574.08" r="1.7" fill="rgba(232,0,20,0.55)"/>
<circle cx="242.50" cy="566.25" r="1.7" fill="rgba(10,10,235,0.55)"/>
<circle cx="234.41" cy="561.02" r="1.7" fill="rgba(10,10,235,0.55)"/>
<circle cx="317.01" cy="564.91" r="1.7" fill="rgba(232,0,20,0.55)"/>
<circle cx="331.04" cy="568.98" r="1.7" fill="rgba(232,0,20,0.55)"/>
<circle cx="260.57" cy="572.39" r="1.7" fill="rgba(77,77,77,0.5)"/>
<circle cx="236.95" cy="580.47" r="1.7" fill="rgba(10,10,235,0.55)"/>
<circle cx="227.98" cy="587.59" r="1.7" fill="rgba(10,10,235,0.55)"/>
<circle cx="249.77" cy="565.18" r="1.7" fill="rgba(10,10,235,0.55)"/>
<circle cx="319.45" cy="583.71" r="1.7" fill="rgba(232,0,20,0.55)"/>
<circle cx="324.50" cy="561.66" r="1.7" fill="rgba(232,0,20,0.55)"/>
<circle cx="312.54" cy="564.37" r="1.7" fill="rgba(232,0,20,0.55)"/>
<circle cx="233.75" cy="579.40" r="1.7" fill="rgba(10,10,235,0.55)"/>
<circle cx="250.56" cy="584.18" r="1.7" fill="rgba(10,10,235,0.55)"/>
<circle cx="316.66" cy="580.54" r="1.7" fill="rgba(232,0,20,0.55)"/>
<circle cx="243.31" cy="568.76" r="1.7" fill="rgba(10,10,235,0.55)"/>
<circle cx="306.42" cy="583.02" r="1.7" fill="rgba(232,0,20,0.55)"/>
<circle cx="324.17" cy="568.64" r="1.7" fill="rgba(232,0,20,0.55)"/>
<circle cx="309.20" cy="577.77" r="1.7" fill="rgba(232,0,20,0.55)"/>
<circle cx="311.50" cy="573.26" r="1.7" fill="rgba(232,0,20,0.55)"/>
<circle cx="319.16" cy="571.31" r="1.7" fill="rgba(232,0,20,0.55)"/>
<circle cx="237.27" cy="581.76" r="1.7" fill="rgba(10,10,235,0.55)"/>
<circle cx="248.27" cy="586.96" r="1.7" fill="rgba(10,10,235,0.55)"/>
<circle cx="351.30" cy="564.60" r="1.7" fill="rgba(232,0,20,0.55)"/>
<circle cx="236.05" cy="571.80" r="1.7" fill="rgba(10,10,235,0.55)"/>
<circle cx="320.44" cy="578.44" r="1.7" fill="rgba(232,0,20,0.55)"/>
<circle cx="330.88" cy="553.27" r="1.7" fill="rgba(232,0,20,0.55)"/>
<circle cx="317.08" cy="572.00" r="1.7" fill="rgba(232,0,20,0.55)"/>
<circle cx="290.32" cy="580.44" r="1.7" fill="rgba(77,77,77,0.5)"/>
<circle cx="215.00" cy="569.75" r="1.7" fill="rgba(10,10,235,0.55)"/>
<circle cx="329.00" cy="545.00" r="1.7" fill="rgba(232,0,20,0.55)"/>
<circle cx="318.12" cy="571.75" r="1.7" fill="rgba(232,0,20,0.55)"/>
<circle cx="308.52" cy="570.19" r="1.7" fill="rgba(232,0,20,0.55)"/>
<circle cx="250.05" cy="574.64" r="1.7" fill="rgba(10,10,235,0.55)"/>
<circle cx="330.89" cy="552.52" r="1.7" fill="rgba(232,0,20,0.55)"/>
<circle cx="250.93" cy="587.12" r="1.7" fill="rgba(10,10,235,0.55)"/>
<circle cx="250.65" cy="581.95" r="1.7" fill="rgba(10,10,235,0.55)"/>
<circle cx="306.59" cy="573.60" r="1.7" fill="rgba(232,0,20,0.55)"/>
<circle cx="243.02" cy="564.87" r="1.7" fill="rgba(10,10,235,0.55)"/>
<circle cx="326.44" cy="564.76" r="1.7" fill="rgba(232,0,20,0.55)"/>
<circle cx="325.40" cy="568.69" r="1.7" fill="rgba(232,0,20,0.55)"/>
<circle cx="288.85" cy="579.66" r="1.7" fill="rgba(77,77,77,0.5)"/>
<circle cx="309.71" cy="579.36" r="1.7" fill="rgba(232,0,20,0.55)"/>
<circle cx="239.25" cy="573.35" r="1.7" fill="rgba(10,10,235,0.55)"/>
<circle cx="292.13" cy="587.32" r="1.7" fill="rgba(77,77,77,0.5)"/>
<circle cx="307.26" cy="581.12" r="1.7" fill="rgba(232,0,20,0.55)"/>
<circle cx="313.96" cy="578.41" r="1.7" fill="rgba(232,0,20,0.55)"/>
<circle cx="309.26" cy="571.18" r="1.7" fill="rgba(232,0,20,0.55)"/>
<circle cx="234.35" cy="560.77" r="1.7" fill="rgba(10,10,235,0.55)"/>
<circle cx="319.66" cy="573.26" r="1.7" fill="rgba(232,0,20,0.55)"/>
<circle cx="322.31" cy="563.55" r="1.7" fill="rgba(232,0,20,0.55)"/>
<circle cx="235.92" cy="584.77" r="1.7" fill="rgba(10,10,235,0.55)"/>
<circle cx="250.36" cy="571.17" r="1.7" fill="rgba(10,10,235,0.55)"/>
<circle cx="237.11" cy="578.74" r="1.7" fill="rgba(10,10,235,0.55)"/>
<circle cx="344.20" cy="553.20" r="1.7" fill="rgba(232,0,20,0.55)"/>
<circle cx="232.50" cy="556.25" r="1.7" fill="rgba(10,10,235,0.55)"/>
<circle cx="296.50" cy="584.29" r="1.7" fill="rgba(77,77,77,0.5)"/>
<circle cx="299.89" cy="585.90" r="1.7" fill="rgba(77,77,77,0.5)"/>
<circle cx="244.06" cy="573.92" r="1.7" fill="rgba(10,10,235,0.55)"/>
<circle cx="306.57" cy="573.06" r="1.7" fill="rgba(232,0,20,0.55)"/>
<circle cx="252.78" cy="574.59" r="1.7" fill="rgba(77,77,77,0.5)"/>
<circle cx="228.25" cy="524.50" r="1.7" fill="rgba(10,10,235,0.55)"/>
<circle cx="322.71" cy="565.93" r="1.7" fill="rgba(232,0,20,0.55)"/>
<circle cx="238.65" cy="585.58" r="1.7" fill="rgba(10,10,235,0.55)"/>
<circle cx="306.92" cy="587.37" r="1.7" fill="rgba(232,0,20,0.55)"/>
<circle cx="239.37" cy="576.17" r="1.7" fill="rgba(10,10,235,0.55)"/>
<circle cx="232.50" cy="566.25" r="1.7" fill="rgba(10,10,235,0.55)"/>
<circle cx="311.36" cy="568.53" r="1.7" fill="rgba(232,0,20,0.55)"/>
<circle cx="250.76" cy="583.09" r="1.7" fill="rgba(10,10,235,0.55)"/>
<circle cx="249.27" cy="564.04" r="1.7" fill="rgba(10,10,235,0.55)"/>
<circle cx="200.00" cy="541.50" r="1.7" fill="rgba(10,10,235,0.55)"/>
<circle cx="248.72" cy="584.22" r="1.7" fill="rgba(10,10,235,0.55)"/>
<circle cx="221.90" cy="557.25" r="1.7" fill="rgba(10,10,235,0.55)"/>
<circle cx="237.38" cy="583.24" r="1.7" fill="rgba(10,10,235,0.55)"/>
<circle cx="240.14" cy="571.64" r="1.7" fill="rgba(10,10,235,0.55)"/>
<circle cx="310.51" cy="575.07" r="1.7" fill="rgba(232,0,20,0.55)"/>
<circle cx="323.96" cy="567.32" r="1.7" fill="rgba(232,0,20,0.55)"/>
<circle cx="239.95" cy="569.66" r="1.7" fill="rgba(10,10,235,0.55)"/>
<circle cx="307.59" cy="582.40" r="1.7" fill="rgba(232,0,20,0.55)"/>
<circle cx="246.37" cy="585.78" r="1.7" fill="rgba(10,10,235,0.55)"/>
<circle cx="220.60" cy="543.75" r="1.7" fill="rgba(10,10,235,0.55)"/>
<circle cx="316.72" cy="582.19" r="1.7" fill="rgba(232,0,20,0.55)"/>
<circle cx="323.10" cy="555.80" r="1.7" fill="rgba(232,0,20,0.55)"/>
<circle cx="293.62" cy="583.94" r="1.7" fill="rgba(77,77,77,0.5)"/>
<circle cx="322.01" cy="566.70" r="1.7" fill="rgba(232,0,20,0.55)"/>
<circle cx="215.87" cy="549.84" r="1.7" fill="rgba(10,10,235,0.55)"/>
<circle cx="232.50" cy="561.90" r="1.7" fill="rgba(10,10,235,0.55)"/>
<circle cx="221.90" cy="545.60" r="1.7" fill="rgba(10,10,235,0.55)"/>
<circle cx="244.73" cy="584.66" r="1.7" fill="rgba(10,10,235,0.55)"/>
<circle cx="322.11" cy="577.16" r="1.7" fill="rgba(232,0,20,0.55)"/>
<circle cx="311.10" cy="571.54" r="1.7" fill="rgba(232,0,20,0.55)"/>
<circle cx="306.25" cy="587.59" r="1.7" fill="rgba(232,0,20,0.55)"/>
<circle cx="247.65" cy="573.01" r="1.7" fill="rgba(10,10,235,0.55)"/>
<circle cx="306.91" cy="576.90" r="1.7" fill="rgba(232,0,20,0.55)"/>
<circle cx="316.69" cy="582.42" r="1.7" fill="rgba(232,0,20,0.55)"/>
<circle cx="365.70" cy="570.80" r="1.7" fill="rgba(232,0,20,0.55)"/>
<circle cx="247.83" cy="569.74" r="1.7" fill="rgba(10,10,235,0.55)"/>
<circle cx="320.62" cy="566.21" r="1.7" fill="rgba(232,0,20,0.55)"/>
<circle cx="323.21" cy="578.40" r="1.7" fill="rgba(232,0,20,0.55)"/>
<circle cx="306.56" cy="575.46" r="1.7" fill="rgba(232,0,20,0.55)"/>
<circle cx="315.18" cy="565.83" r="1.7" fill="rgba(232,0,20,0.55)"/>
<circle cx="325.64" cy="560.54" r="1.7" fill="rgba(232,0,20,0.55)"/>
<circle cx="294.97" cy="579.05" r="1.7" fill="rgba(77,77,77,0.5)"/>
<circle cx="327.34" cy="564.65" r="1.7" fill="rgba(232,0,20,0.55)"/>
<circle cx="242.70" cy="584.06" r="1.7" fill="rgba(10,10,235,0.55)"/>
<circle cx="199.75" cy="541.90" r="1.7" fill="rgba(10,10,235,0.55)"/>
<circle cx="312.72" cy="583.33" r="1.7" fill="rgba(232,0,20,0.55)"/>
<circle cx="324.65" cy="552.86" r="1.7" fill="rgba(232,0,20,0.55)"/>
<circle cx="231.10" cy="569.77" r="1.7" fill="rgba(10,10,235,0.55)"/>
<circle cx="312.48" cy="574.41" r="1.7" fill="rgba(232,0,20,0.55)"/>
<circle cx="322.57" cy="580.01" r="1.7" fill="rgba(232,0,20,0.55)"/>
<circle cx="307.56" cy="566.98" r="1.7" fill="rgba(232,0,20,0.55)"/>
<circle cx="231.25" cy="576.25" r="1.7" fill="rgba(10,10,235,0.55)"/>
<circle cx="293.43" cy="586.97" r="1.7" fill="rgba(77,77,77,0.5)"/>
<circle cx="262.60" cy="581.86" r="1.7" fill="rgba(77,77,77,0.5)"/>
<circle cx="243.89" cy="579.01" r="1.7" fill="rgba(10,10,235,0.55)"/>
<circle cx="239.69" cy="578.03" r="1.7" fill="rgba(10,10,235,0.55)"/>
<circle cx="238.10" cy="560.00" r="1.7" fill="rgba(10,10,235,0.55)"/>
<circle cx="248.65" cy="573.54" r="1.7" fill="rgba(10,10,235,0.55)"/>
<circle cx="320.87" cy="556.22" r="1.7" fill="rgba(232,0,20,0.55)"/>
<circle cx="312.00" cy="586.30" r="1.7" fill="rgba(232,0,20,0.55)"/>
<circle cx="205.60" cy="532.75" r="1.7" fill="rgba(10,10,235,0.55)"/>
<circle cx="318.41" cy="576.71" r="1.7" fill="rgba(232,0,20,0.55)"/>
<circle cx="236.77" cy="568.86" r="1.7" fill="rgba(10,10,235,0.55)"/>
<circle cx="244.05" cy="566.99" r="1.7" fill="rgba(10,10,235,0.55)"/>
<circle cx="312.31" cy="580.80" r="1.7" fill="rgba(232,0,20,0.55)"/>
<circle cx="321.95" cy="583.57" r="1.7" fill="rgba(232,0,20,0.55)"/>
<circle cx="245.34" cy="586.01" r="1.7" fill="rgba(10,10,235,0.55)"/>
<circle cx="225.38" cy="581.53" r="1.7" fill="rgba(10,10,235,0.55)"/>
<circle cx="291.06" cy="582.16" r="1.7" fill="rgba(77,77,77,0.5)"/>
<circle cx="238.67" cy="581.01" r="1.7" fill="rgba(10,10,235,0.55)"/>
<circle cx="244.86" cy="570.91" r="1.7" fill="rgba(10,10,235,0.55)"/>
<circle cx="311.37" cy="576.01" r="1.7" fill="rgba(232,0,20,0.55)"/>
<circle cx="326.01" cy="563.77" r="1.7" fill="rgba(232,0,20,0.55)"/>
<circle cx="219.50" cy="535.00" r="1.7" fill="rgba(10,10,235,0.55)"/>
<circle cx="248.25" cy="585.86" r="1.7" fill="rgba(10,10,235,0.55)"/>
<circle cx="319.84" cy="582.99" r="1.7" fill="rgba(232,0,20,0.55)"/>
<circle cx="230.39" cy="566.38" r="1.7" fill="rgba(10,10,235,0.55)"/>
<circle cx="207.30" cy="555.70" r="1.7" fill="rgba(10,10,235,0.55)"/>
<circle cx="221.54" cy="544.82" r="1.7" fill="rgba(10,10,235,0.55)"/>
<circle cx="310.09" cy="574.24" r="1.7" fill="rgba(232,0,20,0.55)"/>
<circle cx="250.54" cy="586.09" r="1.7" fill="rgba(10,10,235,0.55)"/>
<circle cx="243.24" cy="570.93" r="1.7" fill="rgba(10,10,235,0.55)"/>
<circle cx="312.03" cy="571.95" r="1.7" fill="rgba(232,0,20,0.55)"/>
<circle cx="310.83" cy="565.50" r="1.7" fill="rgba(232,0,20,0.55)"/>
<circle cx="158.50" cy="540.50" r="1.7" fill="rgba(10,10,235,0.55)"/>
<circle cx="233.07" cy="558.05" r="1.7" fill="rgba(10,10,235,0.55)"/>
<circle cx="313.66" cy="573.87" r="1.7" fill="rgba(232,0,20,0.55)"/>
<circle cx="227.53" cy="553.00" r="1.7" fill="rgba(10,10,235,0.55)"/>
<circle cx="314.36" cy="584.29" r="1.7" fill="rgba(232,0,20,0.55)"/>
<circle cx="242.78" cy="561.58" r="1.7" fill="rgba(10,10,235,0.55)"/>
<circle cx="250.18" cy="581.06" r="1.7" fill="rgba(10,10,235,0.55)"/>
<circle cx="247.74" cy="571.22" r="1.7" fill="rgba(10,10,235,0.55)"/>
<circle cx="308.85" cy="571.37" r="1.7" fill="rgba(232,0,20,0.55)"/>
<circle cx="250.35" cy="574.59" r="1.7" fill="rgba(10,10,235,0.55)"/>
<circle cx="312.43" cy="565.74" r="1.7" fill="rgba(232,0,20,0.55)"/>
<circle cx="240.41" cy="581.22" r="1.7" fill="rgba(10,10,235,0.55)"/>
<circle cx="241.71" cy="573.34" r="1.7" fill="rgba(10,10,235,0.55)"/>
<circle cx="258.74" cy="586.14" r="1.7" fill="rgba(77,77,77,0.5)"/>
<circle cx="250.73" cy="575.90" r="1.7" fill="rgba(10,10,235,0.55)"/>
<circle cx="307.02" cy="586.05" r="1.7" fill="rgba(232,0,20,0.55)"/>
<circle cx="316.07" cy="565.68" r="1.7" fill="rgba(232,0,20,0.55)"/>
<circle cx="253.16" cy="577.91" r="1.7" fill="rgba(77,77,77,0.5)"/>
<circle cx="308.44" cy="579.18" r="1.7" fill="rgba(232,0,20,0.55)"/>
<circle cx="351.90" cy="538.70" r="1.7" fill="rgba(232,0,20,0.55)"/>
<circle cx="238.75" cy="567.50" r="1.7" fill="rgba(10,10,235,0.55)"/>
<circle cx="221.50" cy="566.25" r="1.7" fill="rgba(10,10,235,0.55)"/>
<circle cx="320.82" cy="578.23" r="1.7" fill="rgba(232,0,20,0.55)"/>
<circle cx="324.81" cy="569.03" r="1.7" fill="rgba(232,0,20,0.55)"/>
<circle cx="309.68" cy="583.77" r="1.7" fill="rgba(232,0,20,0.55)"/>
<circle cx="240.74" cy="572.53" r="1.7" fill="rgba(10,10,235,0.55)"/>
<circle cx="227.37" cy="574.87" r="1.7" fill="rgba(10,10,235,0.55)"/>
<circle cx="327.09" cy="563.83" r="1.7" fill="rgba(232,0,20,0.55)"/>
<circle cx="362.00" cy="525.70" r="1.7" fill="rgba(232,0,20,0.55)"/>
<circle cx="244.56" cy="575.28" r="1.7" fill="rgba(10,10,235,0.55)"/>
<circle cx="312.00" cy="556.00" r="1.7" fill="rgba(232,0,20,0.55)"/>
<circle cx="250.93" cy="574.31" r="1.7" fill="rgba(10,10,235,0.55)"/>
<circle cx="314.43" cy="582.93" r="1.7" fill="rgba(232,0,20,0.55)"/>
<circle cx="314.70" cy="578.03" r="1.7" fill="rgba(232,0,20,0.55)"/>
<circle cx="305.51" cy="580.68" r="1.7" fill="rgba(232,0,20,0.55)"/>
<circle cx="213.75" cy="532.50" r="1.7" fill="rgba(10,10,235,0.55)"/>
<circle cx="314.64" cy="570.33" r="1.7" fill="rgba(232,0,20,0.55)"/>
<circle cx="318.76" cy="571.91" r="1.7" fill="rgba(232,0,20,0.55)"/>
<circle cx="306.25" cy="577.42" r="1.7" fill="rgba(232,0,20,0.55)"/>
<circle cx="256.50" cy="586.13" r="1.7" fill="rgba(77,77,77,0.5)"/>
<circle cx="236.30" cy="572.26" r="1.7" fill="rgba(10,10,235,0.55)"/>
<circle cx="320.84" cy="572.50" r="1.7" fill="rgba(232,0,20,0.55)"/>
<circle cx="226.90" cy="587.50" r="1.7" fill="rgba(10,10,235,0.55)"/>
<circle cx="209.50" cy="494.75" r="1.7" fill="rgba(10,10,235,0.55)"/>
<circle cx="247.05" cy="571.06" r="1.7" fill="rgba(10,10,235,0.55)"/>
<circle cx="311.94" cy="578.21" r="1.7" fill="rgba(232,0,20,0.55)"/>
<circle cx="311.67" cy="575.12" r="1.7" fill="rgba(232,0,20,0.55)"/>
<circle cx="245.94" cy="578.39" r="1.7" fill="rgba(10,10,235,0.55)"/>
<circle cx="320.90" cy="582.90" r="1.7" fill="rgba(232,0,20,0.55)"/>
<circle cx="331.48" cy="555.34" r="1.7" fill="rgba(232,0,20,0.55)"/>
<circle cx="317.72" cy="581.00" r="1.7" fill="rgba(232,0,20,0.55)"/>
<circle cx="311.17" cy="579.62" r="1.7" fill="rgba(232,0,20,0.55)"/>
<circle cx="245.75" cy="580.94" r="1.7" fill="rgba(10,10,235,0.55)"/>
<circle cx="255.68" cy="572.58" r="1.7" fill="rgba(77,77,77,0.5)"/>
<circle cx="218.10" cy="544.75" r="1.7" fill="rgba(10,10,235,0.55)"/>
<circle cx="246.65" cy="587.07" r="1.7" fill="rgba(10,10,235,0.55)"/>
<circle cx="330.90" cy="530.80" r="1.7" fill="rgba(232,0,20,0.55)"/>
<circle cx="245.58" cy="579.38" r="1.7" fill="rgba(10,10,235,0.55)"/>
<circle cx="318.36" cy="568.72" r="1.7" fill="rgba(232,0,20,0.55)"/>
<circle cx="317.34" cy="571.38" r="1.7" fill="rgba(232,0,20,0.55)"/>
<circle cx="242.09" cy="583.03" r="1.7" fill="rgba(10,10,235,0.55)"/>
<circle cx="304.86" cy="571.94" r="1.7" fill="rgba(232,0,20,0.55)"/>
<circle cx="363.70" cy="542.90" r="1.7" fill="rgba(232,0,20,0.55)"/>
<circle cx="319.28" cy="582.04" r="1.7" fill="rgba(232,0,20,0.55)"/>
<circle cx="238.90" cy="581.30" r="1.7" fill="rgba(10,10,235,0.55)"/>
<circle cx="315.92" cy="565.10" r="1.7" fill="rgba(232,0,20,0.55)"/>
<circle cx="254.78" cy="582.08" r="1.7" fill="rgba(77,77,77,0.5)"/>
<circle cx="246.77" cy="577.26" r="1.7" fill="rgba(10,10,235,0.55)"/>
<circle cx="205.90" cy="532.80" r="1.7" fill="rgba(10,10,235,0.55)"/>
<circle cx="243.85" cy="581.09" r="1.7" fill="rgba(10,10,235,0.55)"/>
<circle cx="316.36" cy="569.65" r="1.7" fill="rgba(232,0,20,0.55)"/>
<circle cx="242.95" cy="569.95" r="1.7" fill="rgba(10,10,235,0.55)"/>
<circle cx="350.50" cy="510.20" r="1.7" fill="rgba(232,0,20,0.55)"/>
<circle cx="228.75" cy="560.00" r="1.7" fill="rgba(10,10,235,0.55)"/>
<circle cx="308.39" cy="575.23" r="1.7" fill="rgba(232,0,20,0.55)"/>
<circle cx="309.00" cy="576.82" r="1.7" fill="rgba(232,0,20,0.55)"/>
<circle cx="318.07" cy="586.51" r="1.7" fill="rgba(232,0,20,0.55)"/>
<circle cx="205.30" cy="534.50" r="1.7" fill="rgba(10,10,235,0.55)"/>
<circle cx="400.00" cy="498.80" r="1.7" fill="rgba(232,0,20,0.55)"/>
<circle cx="306.55" cy="572.05" r="1.7" fill="rgba(232,0,20,0.55)"/>
<circle cx="293.93" cy="577.75" r="1.7" fill="rgba(77,77,77,0.5)"/>
<circle cx="296.51" cy="582.27" r="1.7" fill="rgba(77,77,77,0.5)"/>
<circle cx="241.35" cy="580.13" r="1.7" fill="rgba(10,10,235,0.55)"/>
<circle cx="246.61" cy="575.43" r="1.7" fill="rgba(10,10,235,0.55)"/>
<circle cx="248.11" cy="567.44" r="1.7" fill="rgba(10,10,235,0.55)"/>
<circle cx="258.47" cy="577.95" r="1.7" fill="rgba(77,77,77,0.5)"/>
<circle cx="245.56" cy="574.16" r="1.7" fill="rgba(10,10,235,0.55)"/>
<circle cx="248.77" cy="580.23" r="1.7" fill="rgba(10,10,235,0.55)"/>
<circle cx="233.47" cy="580.66" r="1.7" fill="rgba(10,10,235,0.55)"/>
<circle cx="245.34" cy="570.01" r="1.7" fill="rgba(10,10,235,0.55)"/>
<circle cx="309.10" cy="579.18" r="1.7" fill="rgba(232,0,20,0.55)"/>
<circle cx="248.82" cy="577.00" r="1.7" fill="rgba(10,10,235,0.55)"/>
<circle cx="246.40" cy="567.98" r="1.7" fill="rgba(10,10,235,0.55)"/>
<circle cx="248.85" cy="585.51" r="1.7" fill="rgba(10,10,235,0.55)"/>
<circle cx="262.73" cy="586.38" r="1.7" fill="rgba(77,77,77,0.5)"/>
<circle cx="237.29" cy="557.16" r="1.7" fill="rgba(10,10,235,0.55)"/>
<circle cx="243.60" cy="579.56" r="1.7" fill="rgba(10,10,235,0.55)"/>
<circle cx="320.03" cy="554.52" r="1.7" fill="rgba(232,0,20,0.55)"/>
<circle cx="322.78" cy="564.13" r="1.7" fill="rgba(232,0,20,0.55)"/>
<circle cx="227.90" cy="546.45" r="1.7" fill="rgba(10,10,235,0.55)"/>
<circle cx="232.81" cy="580.62" r="1.7" fill="rgba(10,10,235,0.55)"/>
<circle cx="291.84" cy="579.28" r="1.7" fill="rgba(77,77,77,0.5)"/>
<circle cx="320.09" cy="568.96" r="1.7" fill="rgba(232,0,20,0.55)"/>
<circle cx="309.39" cy="583.28" r="1.7" fill="rgba(232,0,20,0.55)"/>
<circle cx="312.08" cy="576.28" r="1.7" fill="rgba(232,0,20,0.55)"/>
<circle cx="315.58" cy="571.97" r="1.7" fill="rgba(232,0,20,0.55)"/>
<circle cx="292.33" cy="582.32" r="1.7" fill="rgba(77,77,77,0.5)"/>
<circle cx="296.00" cy="585.01" r="1.7" fill="rgba(77,77,77,0.5)"/>
<circle cx="311.06" cy="570.22" r="1.7" fill="rgba(232,0,20,0.55)"/>
<circle cx="238.91" cy="578.45" r="1.7" fill="rgba(10,10,235,0.55)"/>
<circle cx="247.20" cy="580.59" r="1.7" fill="rgba(10,10,235,0.55)"/>
<circle cx="201.00" cy="515.20" r="1.7" fill="rgba(10,10,235,0.55)"/>
<circle cx="311.51" cy="579.80" r="1.7" fill="rgba(232,0,20,0.55)"/>
<circle cx="232.71" cy="569.54" r="1.7" fill="rgba(10,10,235,0.55)"/>
<circle cx="317.63" cy="583.52" r="1.7" fill="rgba(232,0,20,0.55)"/>
<circle cx="294.50" cy="569.50" r="1.7" fill="rgba(77,77,77,0.5)"/>
<circle cx="311.50" cy="584.70" r="1.7" fill="rgba(232,0,20,0.55)"/>
<circle cx="249.84" cy="574.75" r="1.7" fill="rgba(10,10,235,0.55)"/>
<circle cx="308.82" cy="581.92" r="1.7" fill="rgba(232,0,20,0.55)"/>
<circle cx="228.34" cy="576.50" r="1.7" fill="rgba(10,10,235,0.55)"/>
<circle cx="300.55" cy="586.78" r="1.7" fill="rgba(77,77,77,0.5)"/>
<circle cx="306.89" cy="583.79" r="1.7" fill="rgba(232,0,20,0.55)"/>
<circle cx="239.64" cy="581.16" r="1.7" fill="rgba(10,10,235,0.55)"/>
<circle cx="236.19" cy="560.65" r="1.7" fill="rgba(10,10,235,0.55)"/>
<circle cx="314.76" cy="569.74" r="1.7" fill="rgba(232,0,20,0.55)"/>
<circle cx="210.00" cy="518.75" r="1.7" fill="rgba(10,10,235,0.55)"/>
<circle cx="296.81" cy="581.16" r="1.7" fill="rgba(77,77,77,0.5)"/>
<circle cx="309.22" cy="572.32" r="1.7" fill="rgba(232,0,20,0.55)"/>
<circle cx="245.71" cy="576.07" r="1.7" fill="rgba(10,10,235,0.55)"/>
<circle cx="211.25" cy="513.75" r="1.7" fill="rgba(10,10,235,0.55)"/>
<circle cx="322.45" cy="574.25" r="1.7" fill="rgba(232,0,20,0.55)"/>
<circle cx="320.85" cy="584.52" r="1.7" fill="rgba(232,0,20,0.55)"/>
<circle cx="247.50" cy="566.90" r="1.7" fill="rgba(10,10,235,0.55)"/>
<circle cx="232.67" cy="569.45" r="1.7" fill="rgba(10,10,235,0.55)"/>
<circle cx="313.27" cy="568.15" r="1.7" fill="rgba(232,0,20,0.55)"/>
<circle cx="208.00" cy="557.40" r="1.7" fill="rgba(10,10,235,0.55)"/>
<circle cx="299.92" cy="578.76" r="1.7" fill="rgba(77,77,77,0.5)"/>
<circle cx="323.77" cy="566.11" r="1.7" fill="rgba(232,0,20,0.55)"/>
<circle cx="236.25" cy="583.75" r="1.7" fill="rgba(10,10,235,0.55)"/>
<circle cx="326.23" cy="562.05" r="1.7" fill="rgba(232,0,20,0.55)"/>
<circle cx="330.16" cy="567.93" r="1.7" fill="rgba(232,0,20,0.55)"/>
<circle cx="242.85" cy="569.88" r="1.7" fill="rgba(10,10,235,0.55)"/>
<circle cx="325.12" cy="559.49" r="1.7" fill="rgba(232,0,20,0.55)"/>
<circle cx="248.61" cy="568.94" r="1.7" fill="rgba(10,10,235,0.55)"/>
<circle cx="238.75" cy="553.10" r="1.7" fill="rgba(10,10,235,0.55)"/>
<circle cx="308.13" cy="585.53" r="1.7" fill="rgba(232,0,20,0.55)"/>
<circle cx="316.00" cy="558.00" r="1.7" fill="rgba(232,0,20,0.55)"/>
<circle cx="250.72" cy="565.89" r="1.7" fill="rgba(10,10,235,0.55)"/>
<circle cx="223.07" cy="544.50" r="1.7" fill="rgba(10,10,235,0.55)"/>
<circle cx="245.51" cy="585.75" r="1.7" fill="rgba(10,10,235,0.55)"/>
<circle cx="223.50" cy="557.05" r="1.7" fill="rgba(10,10,235,0.55)"/>
<circle cx="325.59" cy="571.27" r="1.7" fill="rgba(232,0,20,0.55)"/>
<circle cx="322.06" cy="584.87" r="1.7" fill="rgba(232,0,20,0.55)"/>
<circle cx="250.72" cy="576.11" r="1.7" fill="rgba(10,10,235,0.55)"/>
<circle cx="230.60" cy="564.40" r="1.7" fill="rgba(10,10,235,0.55)"/>
<circle cx="317.46" cy="582.97" r="1.7" fill="rgba(232,0,20,0.55)"/>
<circle cx="295.45" cy="587.66" r="1.7" fill="rgba(77,77,77,0.5)"/>
<circle cx="308.97" cy="571.22" r="1.7" fill="rgba(232,0,20,0.55)"/>
<circle cx="298.99" cy="578.09" r="1.7" fill="rgba(77,77,77,0.5)"/>
<circle cx="326.00" cy="551.70" r="1.7" fill="rgba(232,0,20,0.55)"/>
<circle cx="236.25" cy="538.50" r="1.7" fill="rgba(10,10,235,0.55)"/>
<circle cx="312.85" cy="582.99" r="1.7" fill="rgba(232,0,20,0.55)"/>
<circle cx="325.50" cy="544.80" r="1.7" fill="rgba(232,0,20,0.55)"/>
<circle cx="248.16" cy="567.32" r="1.7" fill="rgba(10,10,235,0.55)"/>
<circle cx="247.20" cy="585.50" r="1.7" fill="rgba(10,10,235,0.55)"/>
<circle cx="308.35" cy="586.68" r="1.7" fill="rgba(232,0,20,0.55)"/>
<circle cx="255.96" cy="569.48" r="1.7" fill="rgba(77,77,77,0.5)"/>
<circle cx="246.86" cy="567.48" r="1.7" fill="rgba(10,10,235,0.55)"/>
<circle cx="173.75" cy="472.00" r="1.7" fill="rgba(10,10,235,0.55)"/>
<circle cx="213.75" cy="544.50" r="1.7" fill="rgba(10,10,235,0.55)"/>
<circle cx="327.56" cy="564.28" r="1.7" fill="rgba(232,0,20,0.55)"/>
<circle cx="190.75" cy="515.00" r="1.7" fill="rgba(10,10,235,0.55)"/>
<circle cx="250.00" cy="567.50" r="1.7" fill="rgba(10,10,235,0.55)"/>
<circle cx="319.11" cy="574.55" r="1.7" fill="rgba(232,0,20,0.55)"/>
<circle cx="225.00" cy="560.60" r="1.7" fill="rgba(10,10,235,0.55)"/>
<circle cx="321.75" cy="578.16" r="1.7" fill="rgba(232,0,20,0.55)"/>
<circle cx="220.71" cy="558.89" r="1.7" fill="rgba(10,10,235,0.55)"/>
<circle cx="318.41" cy="567.24" r="1.7" fill="rgba(232,0,20,0.55)"/>
<circle cx="299.20" cy="580.51" r="1.7" fill="rgba(77,77,77,0.5)"/>
<circle cx="326.83" cy="555.64" r="1.7" fill="rgba(232,0,20,0.55)"/>
<circle cx="323.74" cy="576.38" r="1.7" fill="rgba(232,0,20,0.55)"/>
<circle cx="226.25" cy="543.25" r="1.7" fill="rgba(10,10,235,0.55)"/>
<circle cx="250.06" cy="566.24" r="1.7" fill="rgba(10,10,235,0.55)"/>
<circle cx="257.02" cy="581.86" r="1.7" fill="rgba(77,77,77,0.5)"/>
<circle cx="318.08" cy="571.30" r="1.7" fill="rgba(232,0,20,0.55)"/>
<circle cx="254.80" cy="558.00" r="1.7" fill="rgba(77,77,77,0.5)"/>
<circle cx="310.32" cy="576.39" r="1.7" fill="rgba(232,0,20,0.55)"/>
<circle cx="251.00" cy="565.48" r="1.7" fill="rgba(10,10,235,0.55)"/>
<circle cx="249.69" cy="584.78" r="1.7" fill="rgba(10,10,235,0.55)"/>
<circle cx="319.24" cy="569.90" r="1.7" fill="rgba(232,0,20,0.55)"/>
<circle cx="316.19" cy="570.83" r="1.7" fill="rgba(232,0,20,0.55)"/>
<circle cx="237.63" cy="564.84" r="1.7" fill="rgba(10,10,235,0.55)"/>
<circle cx="201.90" cy="522.40" r="1.7" fill="rgba(10,10,235,0.55)"/>
<circle cx="260.66" cy="582.29" r="1.7" fill="rgba(77,77,77,0.5)"/>
<circle cx="247.17" cy="577.52" r="1.7" fill="rgba(10,10,235,0.55)"/>
<circle cx="331.12" cy="566.85" r="1.7" fill="rgba(232,0,20,0.55)"/>
<circle cx="350.70" cy="564.10" r="1.7" fill="rgba(232,0,20,0.55)"/>
<circle cx="310.92" cy="586.30" r="1.7" fill="rgba(232,0,20,0.55)"/>
<circle cx="232.60" cy="567.00" r="1.7" fill="rgba(10,10,235,0.55)"/>
<circle cx="308.03" cy="569.65" r="1.7" fill="rgba(232,0,20,0.55)"/>
<circle cx="244.50" cy="574.19" r="1.7" fill="rgba(10,10,235,0.55)"/>
<circle cx="240.70" cy="582.79" r="1.7" fill="rgba(10,10,235,0.55)"/>
<circle cx="322.50" cy="562.80" r="1.7" fill="rgba(232,0,20,0.55)"/>
<circle cx="245.50" cy="572.56" r="1.7" fill="rgba(10,10,235,0.55)"/>
<circle cx="236.11" cy="569.57" r="1.7" fill="rgba(10,10,235,0.55)"/>
<circle cx="321.65" cy="587.89" r="1.7" fill="rgba(232,0,20,0.55)"/>
<circle cx="244.71" cy="568.02" r="1.7" fill="rgba(10,10,235,0.55)"/>
<circle cx="297.49" cy="585.15" r="1.7" fill="rgba(77,77,77,0.5)"/>
<circle cx="319.77" cy="576.40" r="1.7" fill="rgba(232,0,20,0.55)"/>
<circle cx="248.06" cy="585.88" r="1.7" fill="rgba(10,10,235,0.55)"/>
<circle cx="327.90" cy="538.30" r="1.7" fill="rgba(232,0,20,0.55)"/>
<circle cx="318.10" cy="579.40" r="1.7" fill="rgba(232,0,20,0.55)"/>
<circle cx="288.59" cy="586.87" r="1.7" fill="rgba(77,77,77,0.5)"/>
<circle cx="240.09" cy="574.83" r="1.7" fill="rgba(10,10,235,0.55)"/>
<circle cx="219.92" cy="559.51" r="1.7" fill="rgba(10,10,235,0.55)"/>
<circle cx="313.92" cy="583.98" r="1.7" fill="rgba(232,0,20,0.55)"/>
<circle cx="330.50" cy="574.20" r="1.7" fill="rgba(232,0,20,0.55)"/>
<circle cx="233.97" cy="570.05" r="1.7" fill="rgba(10,10,235,0.55)"/>
<circle cx="224.40" cy="574.40" r="1.7" fill="rgba(10,10,235,0.55)"/>
<circle cx="298.55" cy="582.66" r="1.7" fill="rgba(77,77,77,0.5)"/>
<circle cx="240.79" cy="583.98" r="1.7" fill="rgba(10,10,235,0.55)"/>
<circle cx="318.45" cy="584.05" r="1.7" fill="rgba(232,0,20,0.55)"/>
<circle cx="313.72" cy="568.96" r="1.7" fill="rgba(232,0,20,0.55)"/>
<circle cx="206.00" cy="534.75" r="1.7" fill="rgba(10,10,235,0.55)"/>
<circle cx="263.60" cy="584.13" r="1.7" fill="rgba(77,77,77,0.5)"/>
<circle cx="339.80" cy="520.20" r="1.7" fill="rgba(232,0,20,0.55)"/>
<circle cx="249.81" cy="583.45" r="1.7" fill="rgba(10,10,235,0.55)"/>
<circle cx="312.25" cy="572.56" r="1.7" fill="rgba(232,0,20,0.55)"/>
<circle cx="297.20" cy="579.59" r="1.7" fill="rgba(77,77,77,0.5)"/>
<circle cx="233.49" cy="563.92" r="1.7" fill="rgba(10,10,235,0.55)"/>
<circle cx="246.97" cy="583.46" r="1.7" fill="rgba(10,10,235,0.55)"/>
<circle cx="226.90" cy="555.00" r="1.7" fill="rgba(10,10,235,0.55)"/>
<circle cx="250.58" cy="575.09" r="1.7" fill="rgba(10,10,235,0.55)"/>
<circle cx="240.58" cy="579.95" r="1.7" fill="rgba(10,10,235,0.55)"/>
<circle cx="207.50" cy="555.60" r="1.7" fill="rgba(10,10,235,0.55)"/>
<circle cx="240.85" cy="587.98" r="1.7" fill="rgba(10,10,235,0.55)"/>
<circle cx="292.73" cy="585.26" r="1.7" fill="rgba(77,77,77,0.5)"/>
<circle cx="297.50" cy="587.28" r="1.7" fill="rgba(77,77,77,0.5)"/>
<circle cx="331.10" cy="558.37" r="1.7" fill="rgba(232,0,20,0.55)"/>
<circle cx="316.01" cy="572.64" r="1.7" fill="rgba(232,0,20,0.55)"/>
<circle cx="220.99" cy="545.47" r="1.7" fill="rgba(10,10,235,0.55)"/>
<circle cx="356.50" cy="541.00" r="1.7" fill="rgba(232,0,20,0.55)"/>
<circle cx="238.65" cy="554.82" r="1.7" fill="rgba(10,10,235,0.55)"/>
<circle cx="239.71" cy="569.85" r="1.7" fill="rgba(10,10,235,0.55)"/>
<circle cx="241.50" cy="585.27" r="1.7" fill="rgba(10,10,235,0.55)"/>
<circle cx="312.99" cy="567.74" r="1.7" fill="rgba(232,0,20,0.55)"/>
<circle cx="317.37" cy="578.61" r="1.7" fill="rgba(232,0,20,0.55)"/>
<circle cx="216.25" cy="527.50" r="1.7" fill="rgba(10,10,235,0.55)"/>
<circle cx="245.34" cy="581.91" r="1.7" fill="rgba(10,10,235,0.55)"/>
<circle cx="315.39" cy="586.30" r="1.7" fill="rgba(232,0,20,0.55)"/>
<circle cx="237.59" cy="581.27" r="1.7" fill="rgba(10,10,235,0.55)"/>
<circle cx="229.89" cy="559.72" r="1.7" fill="rgba(10,10,235,0.55)"/>
<circle cx="329.62" cy="565.50" r="1.7" fill="rgba(232,0,20,0.55)"/>
<circle cx="309.02" cy="574.30" r="1.7" fill="rgba(232,0,20,0.55)"/>
<circle cx="291.14" cy="583.92" r="1.7" fill="rgba(77,77,77,0.5)"/>
<circle cx="244.36" cy="582.21" r="1.7" fill="rgba(10,10,235,0.55)"/>
<circle cx="331.90" cy="554.81" r="1.7" fill="rgba(232,0,20,0.55)"/>
<circle cx="240.97" cy="579.65" r="1.7" fill="rgba(10,10,235,0.55)"/>
<circle cx="226.64" cy="559.41" r="1.7" fill="rgba(10,10,235,0.55)"/>
<circle cx="308.57" cy="578.54" r="1.7" fill="rgba(232,0,20,0.55)"/>
<circle cx="239.62" cy="580.61" r="1.7" fill="rgba(10,10,235,0.55)"/>
<circle cx="313.62" cy="569.86" r="1.7" fill="rgba(232,0,20,0.55)"/>
<circle cx="363.50" cy="542.70" r="1.7" fill="rgba(232,0,20,0.55)"/>
<circle cx="306.20" cy="570.84" r="1.7" fill="rgba(232,0,20,0.55)"/>
<circle cx="244.50" cy="584.31" r="1.7" fill="rgba(10,10,235,0.55)"/>
<circle cx="313.09" cy="576.68" r="1.7" fill="rgba(232,0,20,0.55)"/>
<line x1="251.60" y1="416.2" x2="251.60" y2="595.2" stroke="#333" stroke-width="0.75" stroke-dasharray="2.6,1.8"/>
<line x1="301.40" y1="416.2" x2="301.40" y2="595.2" stroke="#333" stroke-width="0.75" stroke-dasharray="2.6,1.8"/>
<line x1="53.7" y1="585.1" x2="495.8" y2="585.1" stroke="#333" stroke-width="0.75" stroke-dasharray="2.6,1.8"/>
<line x1="396.4" y1="501.5" x2="400" y2="498.8" stroke="#000" stroke-width="0.45"/>
<line x1="347.5" y1="513.5" x2="350.5" y2="510.2" stroke="#000" stroke-width="0.45"/>
<line x1="337.2" y1="522.8" x2="339.8" y2="520.2" stroke="#000" stroke-width="0.45"/>
<line x1="324.8" y1="536.3" x2="328.8" y2="539.2" stroke="#000" stroke-width="0.45"/>
<line x1="343.6" y1="541.3" x2="344.4" y2="542.1" stroke="#000" stroke-width="0.45"/>
<line x1="347.9" y1="549" x2="350.8" y2="549.6" stroke="#000" stroke-width="0.45"/>
<line x1="357.7" y1="550.2" x2="355.4" y2="551.3" stroke="#000" stroke-width="0.45"/>
<line x1="298.9" y1="557.4" x2="322.5" y2="562.8" stroke="#000" stroke-width="0.45"/>
<line x1="353.7" y1="562.5" x2="351.9" y2="564.6" stroke="#000" stroke-width="0.45"/>
<line x1="372.7" y1="557.1" x2="369.8" y2="554.8" stroke="#000" stroke-width="0.45"/>
<line x1="369.0" y1="570.5" x2="365.7" y2="570.8" stroke="#000" stroke-width="0.45"/>
<rect x="383.49" y="499.90" width="13.32" height="5.20" rx="0.9" fill="#fff" stroke="#444" stroke-width="0.45"/>
<text x="390.15" y="503.92" font-size="3.95" fill="#111" stroke="#111" stroke-width="0.06" text-anchor="middle">ITGA2</text>
<rect x="331.82" y="512.75" width="15.95" height="5.20" rx="0.9" fill="#fff" stroke="#444" stroke-width="0.45"/>
<text x="339.80" y="516.77" font-size="3.95" fill="#111" stroke="#111" stroke-width="0.06" text-anchor="middle">IGFBP7</text>
<rect x="326.88" y="522.00" width="10.24" height="5.20" rx="0.9" fill="#fff" stroke="#444" stroke-width="0.45"/>
<text x="332.00" y="526.02" font-size="3.95" fill="#111" stroke="#111" stroke-width="0.06" text-anchor="middle">LUM</text>
<rect x="307.93" y="532.30" width="17.05" height="5.20" rx="0.9" fill="#fff" stroke="#444" stroke-width="0.45"/>
<text x="316.45" y="536.32" font-size="3.95" fill="#111" stroke="#111" stroke-width="0.06" text-anchor="middle">COL6A3</text>
<rect x="330.81" y="536.05" width="12.87" height="5.20" rx="0.9" fill="#fff" stroke="#444" stroke-width="0.45"/>
<text x="337.25" y="540.07" font-size="3.95" fill="#111" stroke="#111" stroke-width="0.06" text-anchor="middle">VCAN</text>
<rect x="307.39" y="547.20" width="15.22" height="5.20" rx="0.9" fill="#fff" stroke="#444" stroke-width="0.45"/>
<text x="315.00" y="551.22" font-size="3.95" fill="#111" stroke="#111" stroke-width="0.06" text-anchor="middle">SPARC</text>
<rect x="330.73" y="545.45" width="17.05" height="5.20" rx="0.9" fill="#fff" stroke="#444" stroke-width="0.45"/>
<text x="339.25" y="549.47" font-size="3.95" fill="#111" stroke="#111" stroke-width="0.06" text-anchor="middle">COL1A1</text>
<rect x="357.94" y="544.70" width="12.22" height="5.20" rx="0.9" fill="#fff" stroke="#444" stroke-width="0.45"/>
<text x="364.05" y="548.72" font-size="3.95" fill="#111" stroke="#111" stroke-width="0.06" text-anchor="middle">HAS2</text>
<rect x="279.68" y="554.40" width="19.25" height="5.20" rx="0.9" fill="#fff" stroke="#444" stroke-width="0.45"/>
<text x="289.30" y="558.42" font-size="3.95" fill="#111" stroke="#111" stroke-width="0.06" text-anchor="middle">COL14A1</text>
<rect x="325.44" y="556.95" width="17.93" height="5.20" rx="0.9" fill="#fff" stroke="#444" stroke-width="0.45"/>
<text x="334.40" y="560.97" font-size="3.95" fill="#111" stroke="#111" stroke-width="0.06" text-anchor="middle">TNFAIP6</text>
<rect x="353.68" y="557.20" width="13.53" height="5.20" rx="0.9" fill="#fff" stroke="#444" stroke-width="0.45"/>
<text x="360.45" y="561.22" font-size="3.95" fill="#111" stroke="#111" stroke-width="0.06" text-anchor="middle">TIMP1</text>
<rect x="372.90" y="557.20" width="15.51" height="5.20" rx="0.9" fill="#fff" stroke="#444" stroke-width="0.45"/>
<text x="380.65" y="561.22" font-size="3.95" fill="#111" stroke="#111" stroke-width="0.06" text-anchor="middle">POSTN</text>
<rect x="302.97" y="563.50" width="15.95" height="5.20" rx="0.9" fill="#fff" stroke="#444" stroke-width="0.45"/>
<text x="310.95" y="567.52" font-size="3.95" fill="#111" stroke="#111" stroke-width="0.06" text-anchor="middle">IGFBP4</text>
<rect x="333.65" y="566.10" width="15.51" height="5.20" rx="0.9" fill="#fff" stroke="#444" stroke-width="0.45"/>
<text x="341.40" y="570.12" font-size="3.95" fill="#111" stroke="#111" stroke-width="0.06" text-anchor="middle">MMP19</text>
<rect x="368.73" y="566.85" width="21.44" height="5.20" rx="0.9" fill="#fff" stroke="#444" stroke-width="0.45"/>
<text x="379.45" y="570.87" font-size="3.95" fill="#111" stroke="#111" stroke-width="0.06" text-anchor="middle">SERPINE1</text>
<rect x="295.10" y="572.65" width="12.00" height="5.20" rx="0.9" fill="#fff" stroke="#444" stroke-width="0.45"/>
<text x="301.10" y="576.67" font-size="3.95" fill="#111" stroke="#111" stroke-width="0.06" text-anchor="middle">THY1</text>
<rect x="325.54" y="575.35" width="10.02" height="5.20" rx="0.9" fill="#fff" stroke="#444" stroke-width="0.45"/>
<text x="330.55" y="579.37" font-size="3.95" fill="#111" stroke="#111" stroke-width="0.06" text-anchor="middle">TNC</text>
<rect x="341.77" y="576.00" width="20.56" height="5.20" rx="0.9" fill="#fff" stroke="#444" stroke-width="0.45"/>
<text x="352.05" y="580.02" font-size="3.95" fill="#111" stroke="#111" stroke-width="0.06" text-anchor="middle">ADAMTS9</text>
<rect x="291.98" y="582.15" width="14.85" height="5.20" rx="0.9" fill="#fff" stroke="#444" stroke-width="0.45"/>
<text x="299.40" y="586.17" font-size="3.95" fill="#111" stroke="#111" stroke-width="0.06" text-anchor="middle">ACTN1</text>
<rect x="311.63" y="584.60" width="14.34" height="5.20" rx="0.9" fill="#fff" stroke="#444" stroke-width="0.45"/>
<text x="318.80" y="588.62" font-size="3.95" fill="#111" stroke="#111" stroke-width="0.06" text-anchor="middle">ACTA2</text>
<rect x="341.72" y="585.80" width="14.85" height="5.20" rx="0.9" fill="#fff" stroke="#444" stroke-width="0.45"/>
<text x="349.15" y="589.82" font-size="3.95" fill="#111" stroke="#111" stroke-width="0.06" text-anchor="middle">PTGS2</text>
<line x1="53.7" y1="416.2" x2="53.7" y2="595.7" stroke="#000" stroke-width="1.1"/>
<line x1="53.2" y1="595.2" x2="495.8" y2="595.2" stroke="#000" stroke-width="1.1"/>
<line x1="50.900000000000006" y1="587.10" x2="53.7" y2="587.10" stroke="#111" stroke-width="0.9"/>
<text x="48.80" y="589.84" font-size="7.6" fill="#4d4d4d" text-anchor="end">0</text>
<line x1="50.900000000000006" y1="545.79" x2="53.7" y2="545.79" stroke="#111" stroke-width="0.9"/>
<text x="48.80" y="548.52" font-size="7.6" fill="#4d4d4d" text-anchor="end">25</text>
<line x1="50.900000000000006" y1="504.48" x2="53.7" y2="504.48" stroke="#111" stroke-width="0.9"/>
<text x="48.80" y="507.21" font-size="7.6" fill="#4d4d4d" text-anchor="end">50</text>
<line x1="50.900000000000006" y1="463.16" x2="53.7" y2="463.16" stroke="#111" stroke-width="0.9"/>
<text x="48.80" y="465.90" font-size="7.6" fill="#4d4d4d" text-anchor="end">75</text>
<line x1="50.900000000000006" y1="421.85" x2="53.7" y2="421.85" stroke="#111" stroke-width="0.9"/>
<text x="48.80" y="424.59" font-size="7.6" fill="#4d4d4d" text-anchor="end">100</text>
<line x1="77.30" y1="595.2" x2="77.30" y2="598.0" stroke="#111" stroke-width="0.9"/>
<text x="77.30" y="606.07" font-size="7.7" fill="#4d4d4d" text-anchor="middle">-4</text>
<line x1="176.90" y1="595.2" x2="176.90" y2="598.0" stroke="#111" stroke-width="0.9"/>
<text x="176.90" y="606.07" font-size="7.7" fill="#4d4d4d" text-anchor="middle">-2</text>
<line x1="276.50" y1="595.2" x2="276.50" y2="598.0" stroke="#111" stroke-width="0.9"/>
<text x="276.50" y="606.07" font-size="7.7" fill="#4d4d4d" text-anchor="middle">0</text>
<line x1="376.10" y1="595.2" x2="376.10" y2="598.0" stroke="#111" stroke-width="0.9"/>
<text x="376.10" y="606.07" font-size="7.7" fill="#4d4d4d" text-anchor="middle">2</text>
<line x1="475.70" y1="595.2" x2="475.70" y2="598.0" stroke="#111" stroke-width="0.9"/>
<text x="475.70" y="606.07" font-size="7.7" fill="#4d4d4d" text-anchor="middle">4</text>
<text x="245.9" y="616.6" font-size="7.85" fill="#000">Log<tspan font-size="5.6" dy="2">2</tspan><tspan dy="-2"> fold change</tspan></text>
<text font-size="8.1" fill="#000" transform="translate(29.9,521.4) rotate(-90)">−Log<tspan font-size="5.7" dy="2">10</tspan><tspan dy="-2" font-style="italic"> P</tspan></text>
<circle cx="193.7" cy="397.2" r="2.65" fill="rgba(0,0,255,0.5)"/>
<text x="202.10" y="399.43" font-size="6.2" fill="#000" text-anchor="start">Downregulated in BOS</text>
<circle cx="274" cy="397.2" r="2.65" fill="rgba(255,0,0,0.5)"/>
<text x="282.90" y="399.43" font-size="6.2" fill="#000" text-anchor="start">Upregulated in BOS</text>
<circle cx="347.4" cy="397.2" r="2.65" fill="rgba(77,77,77,0.5)"/>
<text x="355.70" y="399.43" font-size="6.2" fill="#000" text-anchor="start">NA</text>
</svg>
</body></html>
